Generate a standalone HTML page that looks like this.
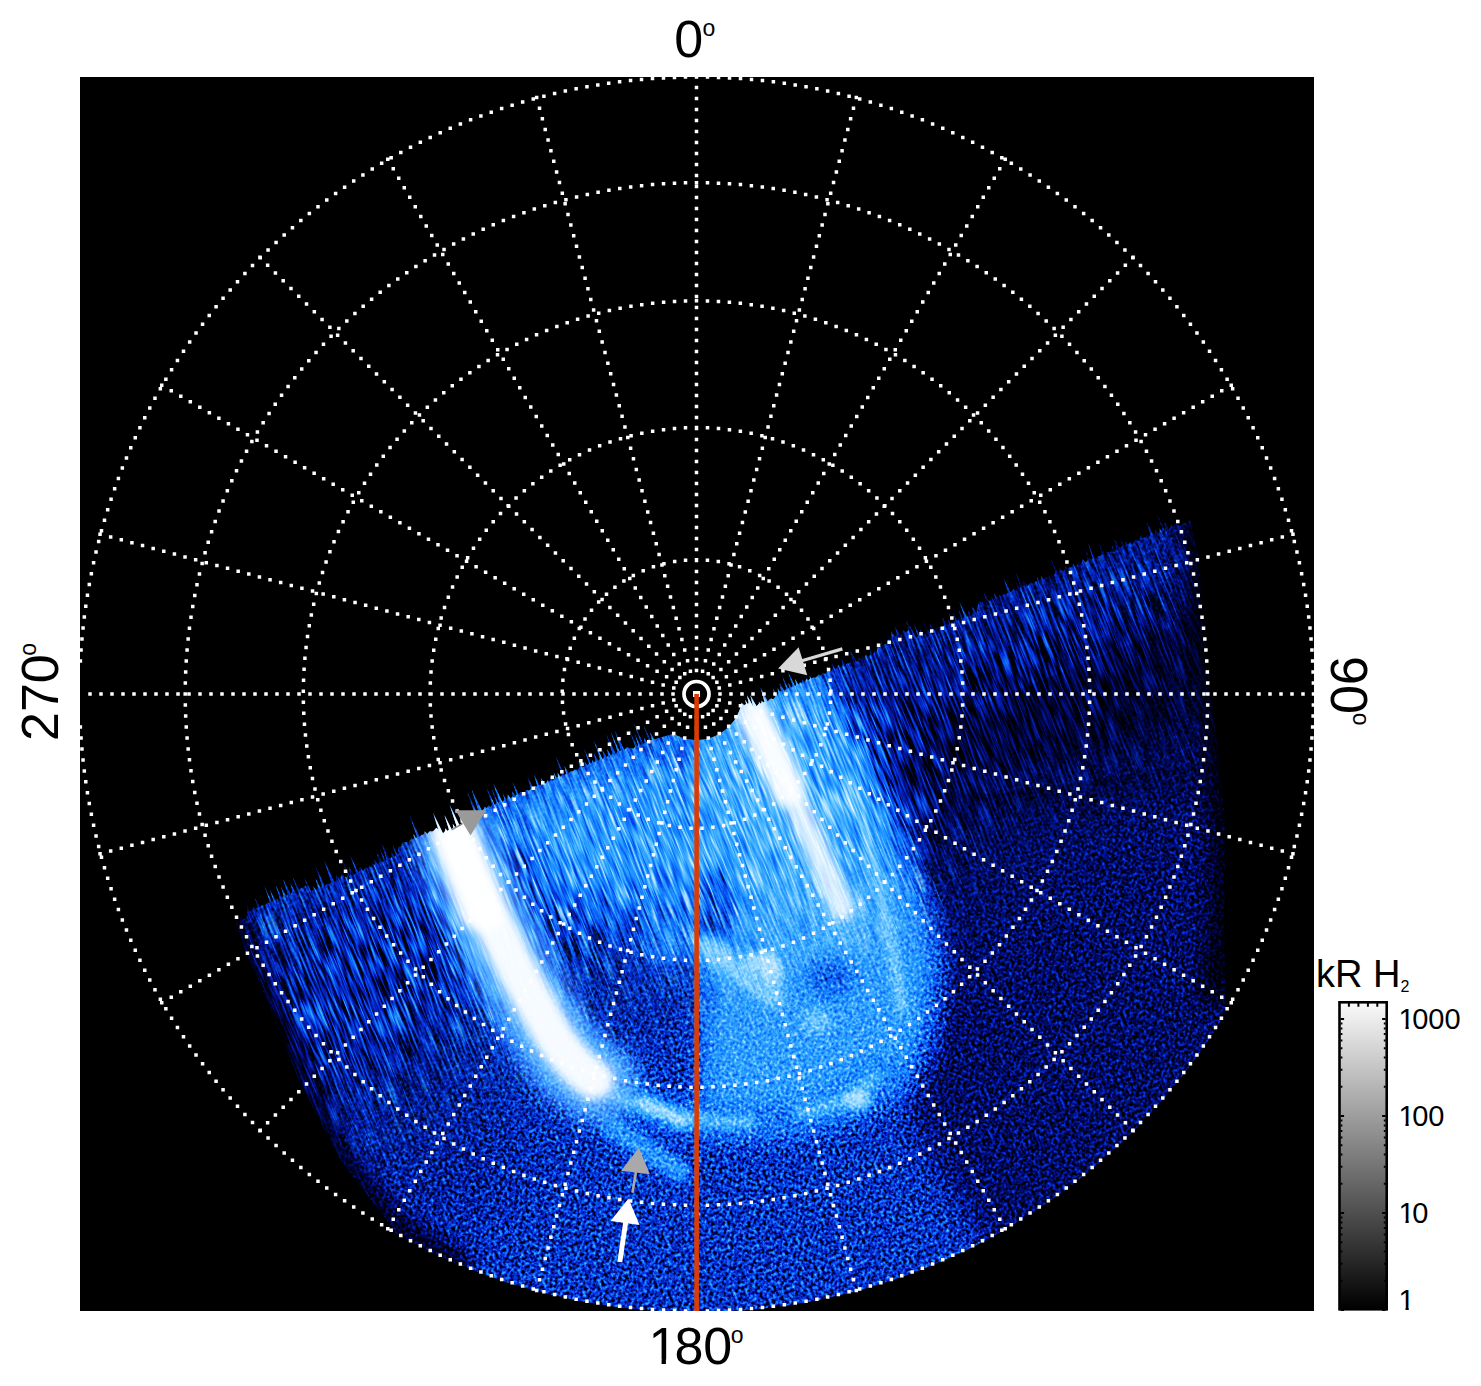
<!DOCTYPE html>
<html><head><meta charset="utf-8"><style>
html,body{margin:0;padding:0;background:#fff;width:1481px;height:1386px;overflow:hidden}
svg{display:block}
text{font-family:"Liberation Sans",sans-serif;fill:#000}
</style></head><body>
<svg width="1481" height="1386" viewBox="0 0 1481 1386">
<defs>
<clipPath id="sq"><rect x="80" y="77" width="1234" height="1234"/></clipPath>
</defs>
<rect x="80" y="77" width="1234" height="1234" fill="#000"/>
<g clip-path="url(#sq)">
<defs>
<filter id="b30" x="-50%" y="-50%" width="200%" height="200%"><feGaussianBlur stdDeviation="30"/></filter>
<filter id="b12" x="-50%" y="-50%" width="200%" height="200%"><feGaussianBlur stdDeviation="12"/></filter>
<filter id="b10" x="-50%" y="-50%" width="200%" height="200%"><feGaussianBlur stdDeviation="10"/></filter>
<filter id="b5" x="-50%" y="-50%" width="200%" height="200%"><feGaussianBlur stdDeviation="5"/></filter>
<filter id="b4" x="-50%" y="-50%" width="200%" height="200%"><feGaussianBlur stdDeviation="4"/></filter>
<filter id="b60" x="-50%" y="-50%" width="200%" height="200%"><feGaussianBlur stdDeviation="60"/></filter>
<filter id="cmI" x="-300" y="100" width="2000" height="1500" filterUnits="userSpaceOnUse" color-interpolation-filters="sRGB">
  <feTurbulence type="fractalNoise" baseFrequency="0.33" numOctaves="2" seed="9" result="t1"/>
  <feColorMatrix in="t1" type="matrix" values="1 0 0 0 0  1 0 0 0 0  1 0 0 0 0  0 0 0 0 1" result="ng"/>
  <feComponentTransfer in="SourceGraphic" result="amp">
    <feFuncR type="table" tableValues="0.15 0.45 0.7 0.8 0.75 0.6 0.45 0.35 0.25 0.15 0.1"/><feFuncG type="table" tableValues="0.15 0.45 0.7 0.8 0.75 0.6 0.45 0.35 0.25 0.15 0.1"/><feFuncB type="table" tableValues="0.15 0.45 0.7 0.8 0.75 0.6 0.45 0.35 0.25 0.15 0.1"/>
    <feFuncA type="linear" slope="0" intercept="1"/>
  </feComponentTransfer>
  <feComposite in="amp" in2="ng" operator="arithmetic" k1="2.0" k2="-1.0" k3="0" k4="0.5" result="pn"/>
  <feComposite in="SourceGraphic" in2="pn" operator="arithmetic" k1="0" k2="1" k3="1" k4="-0.5" result="mod"/>
  <feComponentTransfer in="mod">
    <feFuncR type="table" tableValues="0 0 0.01 0.02 0.04 0.07 0.14 0.3 0.55 0.8 1"/>
    <feFuncG type="table" tableValues="0 0.03 0.1 0.2 0.33 0.48 0.6 0.72 0.83 0.92 1"/>
    <feFuncB type="table" tableValues="0 0.35 0.65 0.85 0.95 1 1 1 1 1 1"/>
    <feFuncA type="linear" slope="0" intercept="1"/>
  </feComponentTransfer>
</filter><filter id="cmS" x="-300" y="100" width="2000" height="1500" filterUnits="userSpaceOnUse" color-interpolation-filters="sRGB">
  <feTurbulence type="fractalNoise" baseFrequency="0.45 0.03" numOctaves="2" seed="4" result="t1"/>
  <feColorMatrix in="t1" type="matrix" values="1 0 0 0 0  1 0 0 0 0  1 0 0 0 0  0 0 0 0 1" result="ng"/>
  <feComponentTransfer in="SourceGraphic" result="amp">
    <feFuncR type="table" tableValues="0.2 0.55 0.8 0.9 0.85 0.7 0.5 0.4 0.3 0.2 0.1"/><feFuncG type="table" tableValues="0.2 0.55 0.8 0.9 0.85 0.7 0.5 0.4 0.3 0.2 0.1"/><feFuncB type="table" tableValues="0.2 0.55 0.8 0.9 0.85 0.7 0.5 0.4 0.3 0.2 0.1"/>
    <feFuncA type="linear" slope="0" intercept="1"/>
  </feComponentTransfer>
  <feComposite in="amp" in2="ng" operator="arithmetic" k1="2.2" k2="-1.1" k3="0" k4="0.5" result="pn"/>
  <feComposite in="SourceGraphic" in2="pn" operator="arithmetic" k1="0" k2="1" k3="1" k4="-0.5" result="mod"/>
  <feComponentTransfer in="mod">
    <feFuncR type="table" tableValues="0 0 0.01 0.02 0.04 0.07 0.14 0.3 0.55 0.8 1"/>
    <feFuncG type="table" tableValues="0 0.03 0.1 0.2 0.33 0.48 0.6 0.72 0.83 0.92 1"/>
    <feFuncB type="table" tableValues="0 0.35 0.65 0.85 0.95 1 1 1 1 1 1"/>
    <feFuncA type="linear" slope="0" intercept="1"/>
  </feComponentTransfer>
</filter><clipPath id="dclip"><path d="M236.0 921.7 L237.0 920.6 L238.9 921.7 L240.8 920.0 L239.8 915.6 L242.4 920.0 L243.5 918.8 L244.6 918.7 L245.9 918.8 L247.5 911.7 L246.9 906.1 L250.7 911.7 L252.9 909.3 L253.5 907.3 L255.7 909.3 L257.6 907.3 L255.1 898.2 L259.9 907.3 L261.5 905.6 L263.1 905.4 L264.8 905.6 L267.0 903.2 L267.5 902.2 L268.7 903.2 L269.9 901.9 L264.4 886.0 L271.8 901.9 L273.0 900.5 L269.8 889.8 L275.3 900.5 L276.8 898.9 L277.5 898.6 L278.5 898.9 L279.5 897.7 L275.9 885.8 L281.9 897.7 L283.5 895.9 L281.0 886.6 L286.0 895.9 L287.6 894.2 L283.0 878.9 L290.6 894.2 L292.6 892.0 L290.2 882.9 L295.2 892.0 L296.9 890.1 L292.6 876.8 L299.0 890.1 L300.4 888.6 L301.3 887.8 L302.8 888.6 L304.4 886.8 L305.2 885.8 L306.9 886.8 L308.6 891.9 L304.2 877.6 L311.3 891.9 L313.1 890.0 L313.2 886.5 L316.1 890.0 L318.0 887.8 L315.5 878.6 L320.5 887.8 L322.1 886.0 L315.3 866.0 L324.6 886.0 L326.3 884.2 L327.7 884.0 L329.3 884.2 L331.2 882.1 L324.1 860.3 L334.5 882.1 L336.6 879.7 L336.1 874.9 L339.5 879.7 L341.5 875.2 L341.8 873.9 L343.2 875.2 L344.4 877.6 L345.0 876.7 L346.4 877.6 L347.7 876.1 L341.4 858.5 L349.4 876.1 L350.5 874.9 L348.8 866.5 L353.9 874.9 L356.1 872.5 L350.1 855.1 L358.2 872.5 L359.6 871.0 L359.5 866.7 L362.9 871.0 L365.2 868.5 L365.7 867.5 L367.0 868.5 L368.3 867.2 L368.7 865.1 L370.8 867.2 L372.5 865.4 L372.2 862.8 L374.0 865.4 L375.0 864.3 L374.5 859.8 L377.7 864.3 L379.5 862.3 L375.9 850.2 L382.1 862.3 L383.8 860.5 L379.8 848.7 L385.4 860.5 L386.5 859.3 L382.2 844.5 L389.8 859.3 L392.0 856.9 L391.2 852.0 L394.4 856.9 L395.9 855.2 L392.5 844.6 L397.6 855.2 L398.7 847.3 L399.3 846.1 L400.9 847.3 L402.3 843.3 L402.8 842.2 L404.1 843.3 L405.2 842.0 L406.8 842.0 L408.5 842.0 L410.8 839.6 L411.4 838.6 L412.8 839.6 L414.1 838.2 L413.3 833.8 L415.9 838.2 L417.1 836.9 L409.5 815.1 L419.6 836.9 L421.2 835.1 L421.9 834.7 L422.9 835.1 L424.1 833.9 L424.6 831.3 L427.3 833.9 L429.5 831.6 L431.2 831.5 L433.0 831.6 L435.3 829.0 L436.2 828.0 L437.9 829.0 L439.7 833.5 L432.8 812.2 L443.0 833.5 L445.2 831.1 L445.3 828.5 L447.5 831.1 L449.0 829.5 L444.4 814.9 L451.6 829.5 L453.4 827.6 L452.8 823.9 L455.3 827.6 L456.6 826.2 L449.6 804.7 L459.9 826.2 L462.1 823.8 L457.2 807.9 L465.2 823.8 L467.2 821.7 L465.2 814.0 L469.5 821.7 L471.0 814.0 L470.8 811.2 L473.0 814.0 L474.4 812.6 L467.3 792.1 L476.8 812.6 L478.4 810.8 L471.5 789.3 L481.9 810.8 L484.3 808.3 L484.5 806.4 L486.3 808.3 L487.6 806.9 L488.3 805.2 L490.4 806.9 L492.3 804.9 L486.8 788.3 L494.8 804.9 L496.4 803.1 L491.1 787.7 L498.1 803.1 L499.2 801.9 L493.2 783.0 L502.4 801.9 L504.5 799.7 L502.7 792.9 L506.3 799.7 L507.6 798.4 L507.7 794.6 L510.8 798.4 L512.9 796.1 L512.0 791.1 L515.2 796.1 L516.8 794.4 L512.4 781.3 L518.7 794.4 L519.9 793.1 L521.2 792.0 L523.3 793.1 L525.6 790.7 L526.8 789.7 L528.8 790.7 L531.0 788.4 L527.5 777.1 L533.2 788.4 L534.7 786.8 L535.1 785.9 L536.2 786.8 L537.2 785.7 L534.1 774.7 L539.8 785.7 L541.6 783.9 L540.9 778.1 L544.9 783.9 L547.1 781.5 L547.4 779.7 L549.2 781.5 L550.5 780.1 L551.0 777.8 L553.2 780.1 L555.1 778.1 L553.7 772.6 L556.8 778.1 L558.0 776.9 L557.6 772.7 L560.5 776.9 L562.1 775.1 L555.7 756.4 L564.5 775.1 L566.1 773.4 L564.5 766.1 L568.7 773.4 L570.5 771.6 L571.7 771.5 L572.9 771.6 L574.5 769.8 L576.1 769.8 L577.7 769.8 L579.8 767.6 L578.6 760.9 L582.8 767.6 L584.8 765.5 L584.6 761.8 L587.4 765.5 L589.1 763.6 L584.0 748.7 L590.9 763.6 L592.0 762.4 L592.1 760.0 L594.1 762.4 L595.5 760.9 L593.8 753.5 L598.2 760.9 L600.0 759.1 L593.5 740.0 L602.4 759.1 L604.0 757.3 L602.3 749.9 L606.6 757.3 L608.3 755.5 L607.1 749.3 L610.9 755.5 L612.7 753.7 L606.1 733.7 L615.6 753.7 L617.6 751.6 L610.6 731.6 L619.7 751.6 L621.0 750.1 L614.6 730.1 L624.3 750.1 L626.5 747.8 L627.4 747.1 L628.9 747.8 L630.5 748.7 L631.8 748.3 L633.4 748.7 L635.3 746.6 L628.8 728.1 L637.2 746.6 L638.4 745.3 L634.7 734.0 L640.2 745.3 L641.4 744.1 L633.9 723.2 L643.3 744.1 L644.7 742.7 L643.9 737.7 L647.2 742.7 L648.9 740.9 L643.2 724.5 L650.7 740.9 L651.9 739.6 L650.0 732.0 L654.1 739.6 L673.4 733.7 L673.4 733.8 L675.8 735.1 L678.4 736.3 L681.1 737.3 L683.8 738.2 L686.5 738.9 L689.3 739.4 L692.1 739.8 L694.9 740.0 L697.8 740.0 L700.6 739.8 L703.4 739.5 L706.2 739.0 L708.9 738.3 L711.6 737.4 L714.3 736.4 L716.9 735.3 L719.4 733.9 L721.8 732.4 L724.1 730.8 L726.3 729.0 L728.4 727.1 L730.4 725.1 L732.2 723.0 L734.0 720.7 L735.5 718.4 L736.9 715.9 L738.2 713.4 L739.3 710.8 L740.3 708.1 L741.1 705.4 L741.1 705.3 L741.5 702.8 L744.1 705.3 L746.1 703.9 L745.1 699.6 L747.6 703.9 L748.7 702.8 L746.9 695.3 L751.2 702.8 L753.0 706.2 L750.3 695.3 L756.5 706.2 L758.9 703.7 L758.9 701.8 L760.4 703.7 L761.5 702.6 L761.6 700.7 L763.3 702.6 L764.4 701.4 L760.5 687.6 L767.7 701.4 L769.8 699.2 L771.2 698.4 L773.2 699.2 L775.5 696.8 L772.7 687.7 L777.2 696.8 L778.3 692.0 L777.5 688.0 L780.0 692.0 L781.1 690.9 L779.6 683.2 L784.3 690.9 L786.4 688.7 L782.2 676.2 L788.0 688.7 L789.1 687.5 L788.4 683.0 L791.3 687.5 L792.8 686.0 L788.1 671.9 L794.9 686.0 L796.3 684.6 L794.9 678.8 L798.3 684.6 L799.6 683.2 L800.0 682.3 L801.2 683.2 L802.3 682.1 L802.3 679.6 L804.4 682.1 L805.8 680.6 L806.2 678.4 L808.4 680.6 L810.1 678.8 L809.7 675.9 L811.6 678.8 L812.7 677.8 L814.2 677.8 L815.7 677.8 L817.7 675.7 L818.5 674.6 L820.2 675.7 L821.9 674.0 L823.3 673.5 L825.1 674.0 L827.2 671.7 L826.8 666.5 L830.5 671.7 L832.7 669.5 L832.0 664.1 L835.6 669.5 L837.6 667.5 L838.0 664.6 L840.8 667.5 L843.0 665.2 L841.0 657.5 L845.3 665.2 L846.9 663.6 L847.7 663.4 L848.7 663.6 L849.9 663.0 L850.1 661.2 L851.7 663.0 L852.9 661.7 L849.7 649.6 L856.3 661.7 L858.5 659.4 L858.6 657.3 L860.5 659.4 L861.8 658.1 L860.9 653.4 L863.7 658.1 L864.9 656.8 L865.9 654.9 L868.4 656.8 L870.7 654.4 L869.3 648.3 L872.8 654.4 L874.1 653.0 L874.2 650.5 L876.3 653.0 L877.8 647.1 L877.2 642.3 L880.4 647.1 L882.1 645.4 L880.7 640.0 L883.6 645.4 L884.6 644.3 L885.7 644.0 L887.0 644.3 L888.5 638.4 L888.6 636.0 L890.5 638.4 L891.8 637.1 L891.0 631.3 L894.9 637.1 L897.0 635.0 L894.8 625.6 L900.3 635.0 L902.5 632.7 L903.2 630.0 L906.1 632.7 L908.5 630.2 L906.1 620.7 L911.3 630.2 L913.2 638.0 L909.3 624.7 L916.1 638.0 L917.9 636.1 L914.2 624.6 L919.7 636.1 L920.9 634.9 L920.4 629.5 L924.2 634.9 L926.3 632.6 L922.9 620.8 L929.1 632.6 L930.9 630.8 L928.9 622.1 L933.8 630.8 L935.8 628.8 L936.7 628.7 L937.6 628.8 L938.8 627.5 L940.2 627.1 L942.0 627.5 L944.2 625.3 L942.5 617.7 L947.0 625.3 L948.9 623.4 L947.6 618.3 L950.4 623.4 L951.4 622.4 L948.6 612.3 L954.0 622.4 L955.7 620.6 L953.2 612.4 L957.3 620.6 L958.4 619.5 L958.5 617.7 L960.1 619.5 L961.2 618.4 L958.2 608.7 L963.1 618.4 L964.4 617.1 L959.4 601.7 L966.9 617.1 L968.6 615.3 L968.1 610.4 L971.5 615.3 L973.5 613.3 L971.9 605.9 L976.4 613.3 L978.3 603.1 L979.1 601.4 L981.3 603.1 L983.4 601.1 L981.5 594.6 L984.9 601.1 L985.9 601.5 L984.0 593.0 L988.8 601.5 L990.8 599.5 L991.2 597.3 L993.4 599.5 L995.1 597.7 L994.1 593.0 L996.9 597.7 L998.0 596.5 L999.3 595.3 L1001.6 596.5 L1004.0 594.1 L1005.2 594.1 L1006.4 594.1 L1008.1 592.4 L1003.2 577.3 L1010.5 592.4 L1012.1 590.8 L1013.4 589.5 L1015.6 590.8 L1018.0 588.4 L1016.1 581.7 L1019.8 588.4 L1020.9 587.2 L1015.9 572.4 L1022.7 587.2 L1023.9 586.0 L1023.4 580.6 L1027.3 586.0 L1029.5 583.7 L1030.6 582.2 L1032.9 583.7 L1035.2 581.4 L1035.9 581.4 L1036.7 581.4 L1037.7 580.4 L1036.9 575.9 L1039.8 580.4 L1041.2 579.0 L1041.1 576.1 L1043.4 579.0 L1044.8 577.5 L1046.4 577.5 L1047.9 577.5 L1050.0 575.4 L1051.5 574.9 L1053.4 575.4 L1055.7 573.1 L1051.3 559.6 L1057.8 573.1 L1059.2 571.7 L1059.6 568.1 L1062.8 571.7 L1065.2 569.3 L1065.2 566.1 L1067.6 569.3 L1069.2 567.6 L1070.0 567.5 L1070.9 567.6 L1072.1 566.5 L1072.9 564.3 L1075.5 566.5 L1077.8 564.2 L1078.4 562.2 L1080.4 564.2 L1082.1 562.4 L1082.6 559.1 L1085.6 562.4 L1088.0 560.1 L1084.8 548.6 L1090.8 560.1 L1092.7 558.2 L1088.2 543.7 L1095.3 558.2 L1097.1 556.4 L1098.6 556.2 L1100.1 556.4 L1102.2 554.3 L1099.5 544.2 L1105.0 554.3 L1106.9 552.4 L1108.6 552.3 L1110.4 552.4 L1112.7 550.1 L1111.8 545.3 L1114.9 550.1 L1116.4 548.6 L1114.2 538.8 L1119.9 548.6 L1122.3 546.2 L1120.1 538.1 L1124.4 546.2 L1125.8 544.8 L1125.3 541.2 L1127.7 544.8 L1128.9 543.6 L1130.1 542.3 L1132.3 543.6 L1134.6 541.3 L1135.7 539.9 L1138.0 541.3 L1140.3 539.0 L1139.4 534.6 L1142.1 539.0 L1143.3 537.8 L1144.2 537.5 L1145.5 537.8 L1147.0 536.3 L1147.3 534.7 L1149.0 536.3 L1150.4 535.0 L1146.6 521.8 L1153.4 535.0 L1155.5 532.9 L1155.2 529.0 L1158.1 532.9 L1159.8 531.2 L1159.5 528.3 L1161.5 531.2 L1162.5 530.1 L1157.3 514.9 L1164.3 530.1 L1165.5 528.9 L1164.1 521.3 L1168.8 528.9 L1171.0 526.7 L1171.2 524.7 L1173.0 526.7 L1174.4 525.3 L1174.3 521.0 L1177.9 525.3 L1180.0 525.9 L1190.0 520.0 L1199.0 560.0 L1203.0 625.0 L1217.0 742.0 L1226.0 828.0 L1224.0 929.0 L1225.9 1012.8 L1221.8 1019.5 L1217.6 1026.2 L1213.3 1032.9 L1208.9 1039.4 L1204.5 1046.0 L1199.9 1052.4 L1195.3 1058.8 L1190.6 1065.2 L1185.8 1071.5 L1181.0 1077.7 L1176.0 1083.8 L1171.0 1089.9 L1165.9 1096.0 L1160.7 1101.9 L1155.5 1107.8 L1150.1 1113.7 L1144.7 1119.4 L1139.3 1125.1 L1133.7 1130.8 L1128.1 1136.3 L1122.4 1141.8 L1116.6 1147.2 L1110.8 1152.5 L1104.9 1157.8 L1099.0 1163.0 L1092.9 1168.1 L1086.8 1173.1 L1080.7 1178.1 L1074.5 1182.9 L1068.2 1187.7 L1061.8 1192.4 L1055.4 1197.1 L1049.0 1201.6 L1042.5 1206.1 L1035.9 1210.5 L1029.3 1214.8 L1022.6 1219.0 L1015.8 1223.1 L1009.0 1227.1 L1002.2 1231.1 L995.3 1235.0 L988.4 1238.7 L981.4 1242.4 L974.4 1246.0 L967.3 1249.5 L960.1 1252.9 L953.0 1256.3 L945.8 1259.5 L938.5 1262.6 L931.2 1265.7 L923.9 1268.6 L916.5 1271.5 L909.1 1274.3 L901.7 1276.9 L894.2 1279.5 L886.7 1282.0 L879.2 1284.4 L871.6 1286.7 L864.0 1288.9 L856.4 1290.9 L848.8 1292.9 L841.1 1294.8 L833.4 1296.6 L825.7 1298.3 L818.0 1299.9 L810.2 1301.4 L802.4 1302.9 L794.7 1304.2 L786.8 1305.4 L779.0 1306.5 L771.2 1307.5 L763.3 1308.4 L755.5 1309.2 L747.6 1309.9 L739.7 1310.5 L731.8 1311.0 L724.0 1311.4 L716.1 1311.7 L708.2 1311.9 L700.3 1312.0 L692.4 1312.0 L684.5 1311.9 L676.6 1311.7 L668.7 1311.4 L660.8 1311.0 L652.9 1310.5 L645.0 1309.9 L637.1 1309.1 L629.3 1308.3 L621.4 1307.4 L613.6 1306.4 L605.8 1305.3 L598.0 1304.1 L590.2 1302.8 L582.4 1301.4 L574.7 1299.9 L566.9 1298.3 L559.2 1296.6 L551.5 1294.8 L543.8 1292.8 L536.2 1290.8 L528.6 1288.8 L521.0 1286.6 L513.4 1284.3 L505.9 1281.9 L498.4 1279.4 L490.9 1276.8 L483.5 1274.1 L476.1 1271.4 L468.7 1268.5 L461.4 1265.5 L454.1 1262.5 L446.9 1259.3 L439.7 1256.1 L432.5 1252.8 L425.4 1249.4 L418.3 1245.8 L411.3 1242.2 L404.3 1238.6 L397.4 1234.8 L342.0 1162.0 L302.0 1087.0 L268.0 1002.0 L247.0 955.0 L236.0 925.0Z"/></clipPath>
<mask id="mS" maskUnits="userSpaceOnUse" x="0" y="0" width="1481" height="1386"><path d="M200 940 L236 921 L260 881.138 L300 863.662 L340 846.252 L380 828.908 L420 811.63 L460 794.418 L500 777.271 L540 760.191 L580 743.176 L620 726.228 L660 709.345 L700 692.528 L740 675.778 L780 659.093 L820 642.474 L860 625.921 L900 609.434 L940 593.013 L980 576.658 L1020 560.369 L1060 544.145 L1100 527.988 L1140 511.897 L1180 495.871 L1230 720 L1000 810 L930 900 L760 960 L560 980 L420 1100 L250 1180Z" fill="#fff" filter="url(#b60)"/></mask>
<g id="field">
<rect x="60" y="380" width="1280" height="960" fill="#474747"/>
<g filter="url(#b12)">
<path d="M815 676 L1250 470 L1260 1050 L1080 1250 L990 1250 L930 1160 L905 1100 L925 1040 L935 960 L922 900 L890 820 L850 740Z" fill="#1a1a1a"/>
<path d="M700 725 L815 676 L850 740 L890 820 L922 900 L935 960 L925 1040 L900 1090 L850 1115 L760 1122 L700 1120Z" fill="#9e9e9e"/>
</g>
<g filter="url(#b30)">
<path d="M900 710 L1220 585 L1225 760 L960 800Z" fill="#080808"/>
<path d="M870 650 L1195 515 L1200 570 L880 700Z" fill="#383838"/>
<path d="M480 790 L690 730 L700 910 L580 910 L500 860Z" fill="#9e9e9e"/>
<path d="M697 735 L815 676 L860 760 L855 950 L697 950Z" fill="#adadad"/>
<path d="M236 921 L440 840 L470 960 L260 1000Z" fill="#383838"/>
<ellipse cx="615" cy="990" rx="55" ry="80" fill="#3d3d3d"/>
<path d="M250 1010 L440 1000 L540 1180 L430 1250 L320 1150Z" fill="#333333"/>
</g>
<path d="M225 900 L236 925 L247 955 L268 1002 L302 1087 L342 1162 L400 1230 L470 1270" stroke="#000" stroke-width="26" fill="none" filter="url(#b10)"/>
<path d="M1190 520 L1199 560 L1203 625 L1217 742 L1226 828 L1224 929 L1213 1005" stroke="#000" stroke-width="30" fill="none" filter="url(#b10)"/>
<g filter="url(#b10)" fill="none" stroke-linecap="round">
<path d="M456 846 C482 918 515 980 554 1040 C568 1062 584 1075 602 1085" stroke="#a6a6a6" stroke-width="76"/>
<path d="M600 1085 C640 1110 700 1130 770 1125 C820 1120 850 1105 880 1075" stroke="#808080" stroke-width="34"/>
<path d="M742 712 C780 790 815 855 848 920" stroke="#b2b2b2" stroke-width="70"/>
<path d="M848 778 C870 840 890 930 902 1010" stroke="#999999" stroke-width="26"/>
<ellipse cx="718" cy="905" rx="22" ry="40" fill="#6b6b6b" stroke="none"/>
<ellipse cx="830" cy="975" rx="25" ry="22" fill="#737373" stroke="none"/>
<ellipse cx="668" cy="937" rx="22" ry="28" fill="#8c8c8c" stroke="none"/>
</g>
<g filter="url(#b4)" fill="none" stroke-linecap="round">
<path d="M610 1092 C650 1114 700 1124 750 1122" stroke="#b8b8b8" stroke-width="14"/>
<path d="M800 1112 C835 1108 860 1095 875 1075" stroke="#b8b8b8" stroke-width="14"/>
<path d="M612 1128 L680 1172" stroke="#999999" stroke-width="22"/>
<path d="M645 1102 L682 1122" stroke="#d9d9d9" stroke-width="14"/>
<ellipse cx="857" cy="1100" rx="14" ry="10" fill="#d9d9d9" stroke="none"/>
<ellipse cx="817" cy="1021" rx="16" ry="12" fill="#bfbfbf" stroke="none"/>
<path d="M848 778 C870 840 890 930 902 1010" stroke="#cccccc" stroke-width="10"/>
<ellipse cx="763" cy="972" rx="20" ry="22" fill="#d9d9d9" stroke="none"/>
<path d="M705 945 L772 995" stroke="#c7c7c7" stroke-width="24"/>
</g>
</g></defs>
<g clip-path="url(#dclip)">
<g transform="rotate(-22 696.5 694.0)"><g filter="url(#cmI)"><use href="#field" transform="rotate(22 696.5 694.0)"/></g></g>
<g mask="url(#mS)"><g transform="rotate(-22 696.5 694.0)"><g filter="url(#cmS)"><use href="#field" transform="rotate(22 696.5 694.0)"/></g></g></g>
<g filter="url(#b10)" fill="none" stroke-linecap="round">
<path d="M456 846 C482 905 508 962 554 1040 C568 1062 580 1074 597 1082" stroke="#8cc8ff" stroke-width="76" stroke-opacity="0.45"/>
</g>
<g filter="url(#b5)" fill="none" stroke-linecap="round">
<path d="M458 838 C484 905 510 962 556 1040 C570 1060 582 1072 594 1080" stroke="#fff" stroke-width="40" stroke-opacity="0.95"/>
<path d="M452 830 C462 860 472 885 482 910" stroke="#fff" stroke-width="46" stroke-opacity="0.9"/>
<path d="M760 718 C780 765 805 825 842 908" stroke="#fff" stroke-width="24" stroke-opacity="0.8"/>
<path d="M752 712 C762 735 775 760 788 790" stroke="#fff" stroke-width="34" stroke-opacity="0.85"/>
</g>
</g>
<path d="M694.75 668.75h3.5v3.5h-3.5zM700.83 669.55h3.5v3.5h-3.5zM706.50 671.90h3.5v3.5h-3.5zM711.37 675.63h3.5v3.5h-3.5zM715.10 680.50h3.5v3.5h-3.5zM717.45 686.17h3.5v3.5h-3.5zM718.25 692.25h3.5v3.5h-3.5zM717.45 698.33h3.5v3.5h-3.5zM715.10 704.00h3.5v3.5h-3.5zM711.37 708.87h3.5v3.5h-3.5zM706.50 712.60h3.5v3.5h-3.5zM700.83 714.95h3.5v3.5h-3.5zM694.75 715.75h3.5v3.5h-3.5zM688.67 714.95h3.5v3.5h-3.5zM683.00 712.60h3.5v3.5h-3.5zM678.13 708.87h3.5v3.5h-3.5zM674.40 704.00h3.5v3.5h-3.5zM672.05 698.33h3.5v3.5h-3.5zM671.25 692.25h3.5v3.5h-3.5zM672.05 686.17h3.5v3.5h-3.5zM674.40 680.50h3.5v3.5h-3.5zM678.13 675.63h3.5v3.5h-3.5zM683.00 671.90h3.5v3.5h-3.5zM688.67 669.55h3.5v3.5h-3.5zM694.75 557.95h3.5v3.5h-3.5zM705.70 558.40h3.5v3.5h-3.5zM716.57 559.73h3.5v3.5h-3.5zM727.30 561.95h3.5v3.5h-3.5zM737.81 565.04h3.5v3.5h-3.5zM748.04 568.97h3.5v3.5h-3.5zM757.91 573.73h3.5v3.5h-3.5zM767.36 579.27h3.5v3.5h-3.5zM776.33 585.56h3.5v3.5h-3.5zM784.75 592.57h3.5v3.5h-3.5zM792.58 600.24h3.5v3.5h-3.5zM799.75 608.52h3.5v3.5h-3.5zM806.23 617.35h3.5v3.5h-3.5zM811.96 626.69h3.5v3.5h-3.5zM816.91 636.46h3.5v3.5h-3.5zM821.05 646.60h3.5v3.5h-3.5zM824.35 657.05h3.5v3.5h-3.5zM826.79 667.73h3.5v3.5h-3.5zM828.35 678.58h3.5v3.5h-3.5zM829.02 689.51h3.5v3.5h-3.5zM828.80 700.46h3.5v3.5h-3.5zM827.68 711.36h3.5v3.5h-3.5zM825.68 722.13h3.5v3.5h-3.5zM822.81 732.71h3.5v3.5h-3.5zM819.09 743.01h3.5v3.5h-3.5zM814.54 752.98h3.5v3.5h-3.5zM809.19 762.54h3.5v3.5h-3.5zM803.08 771.63h3.5v3.5h-3.5zM796.25 780.20h3.5v3.5h-3.5zM788.74 788.18h3.5v3.5h-3.5zM780.61 795.52h3.5v3.5h-3.5zM771.91 802.17h3.5v3.5h-3.5zM762.69 808.10h3.5v3.5h-3.5zM753.02 813.25h3.5v3.5h-3.5zM742.96 817.60h3.5v3.5h-3.5zM732.59 821.11h3.5v3.5h-3.5zM721.96 823.77h3.5v3.5h-3.5zM711.15 825.55h3.5v3.5h-3.5zM700.23 826.44h3.5v3.5h-3.5zM689.27 826.44h3.5v3.5h-3.5zM678.35 825.55h3.5v3.5h-3.5zM667.54 823.77h3.5v3.5h-3.5zM656.91 821.11h3.5v3.5h-3.5zM646.54 817.60h3.5v3.5h-3.5zM636.48 813.25h3.5v3.5h-3.5zM626.81 808.10h3.5v3.5h-3.5zM617.59 802.17h3.5v3.5h-3.5zM608.89 795.52h3.5v3.5h-3.5zM600.76 788.18h3.5v3.5h-3.5zM593.25 780.20h3.5v3.5h-3.5zM586.42 771.63h3.5v3.5h-3.5zM580.31 762.54h3.5v3.5h-3.5zM574.96 752.98h3.5v3.5h-3.5zM570.41 743.01h3.5v3.5h-3.5zM566.69 732.71h3.5v3.5h-3.5zM563.82 722.13h3.5v3.5h-3.5zM561.82 711.36h3.5v3.5h-3.5zM560.70 700.46h3.5v3.5h-3.5zM560.48 689.51h3.5v3.5h-3.5zM561.15 678.58h3.5v3.5h-3.5zM562.71 667.73h3.5v3.5h-3.5zM565.15 657.05h3.5v3.5h-3.5zM568.45 646.60h3.5v3.5h-3.5zM572.59 636.46h3.5v3.5h-3.5zM577.54 626.69h3.5v3.5h-3.5zM583.27 617.35h3.5v3.5h-3.5zM589.75 608.52h3.5v3.5h-3.5zM596.92 600.24h3.5v3.5h-3.5zM604.75 592.57h3.5v3.5h-3.5zM613.17 585.56h3.5v3.5h-3.5zM622.14 579.27h3.5v3.5h-3.5zM631.59 573.73h3.5v3.5h-3.5zM641.46 568.97h3.5v3.5h-3.5zM651.69 565.04h3.5v3.5h-3.5zM662.20 561.95h3.5v3.5h-3.5zM672.93 559.73h3.5v3.5h-3.5zM683.80 558.40h3.5v3.5h-3.5zM694.75 425.85h3.5v3.5h-3.5zM705.76 426.08h3.5v3.5h-3.5zM716.75 426.76h3.5v3.5h-3.5zM727.70 427.90h3.5v3.5h-3.5zM738.60 429.48h3.5v3.5h-3.5zM749.42 431.52h3.5v3.5h-3.5zM760.15 434.00h3.5v3.5h-3.5zM770.76 436.92h3.5v3.5h-3.5zM781.25 440.28h3.5v3.5h-3.5zM791.59 444.07h3.5v3.5h-3.5zM801.76 448.29h3.5v3.5h-3.5zM811.75 452.92h3.5v3.5h-3.5zM821.54 457.96h3.5v3.5h-3.5zM831.12 463.40h3.5v3.5h-3.5zM840.46 469.23h3.5v3.5h-3.5zM849.55 475.44h3.5v3.5h-3.5zM858.38 482.02h3.5v3.5h-3.5zM866.92 488.96h3.5v3.5h-3.5zM875.18 496.25h3.5v3.5h-3.5zM883.12 503.88h3.5v3.5h-3.5zM890.75 511.82h3.5v3.5h-3.5zM898.04 520.08h3.5v3.5h-3.5zM904.98 528.62h3.5v3.5h-3.5zM911.56 537.45h3.5v3.5h-3.5zM917.77 546.54h3.5v3.5h-3.5zM923.60 555.88h3.5v3.5h-3.5zM929.04 565.46h3.5v3.5h-3.5zM934.08 575.25h3.5v3.5h-3.5zM938.71 585.24h3.5v3.5h-3.5zM942.93 595.41h3.5v3.5h-3.5zM946.72 605.75h3.5v3.5h-3.5zM950.08 616.24h3.5v3.5h-3.5zM953.00 626.85h3.5v3.5h-3.5zM955.48 637.58h3.5v3.5h-3.5zM957.52 648.40h3.5v3.5h-3.5zM959.10 659.30h3.5v3.5h-3.5zM960.24 670.25h3.5v3.5h-3.5zM960.92 681.24h3.5v3.5h-3.5zM961.15 692.25h3.5v3.5h-3.5zM960.92 703.26h3.5v3.5h-3.5zM960.24 714.25h3.5v3.5h-3.5zM959.10 725.20h3.5v3.5h-3.5zM957.52 736.10h3.5v3.5h-3.5zM955.48 746.92h3.5v3.5h-3.5zM953.00 757.65h3.5v3.5h-3.5zM950.08 768.26h3.5v3.5h-3.5zM946.72 778.75h3.5v3.5h-3.5zM942.93 789.09h3.5v3.5h-3.5zM938.71 799.26h3.5v3.5h-3.5zM934.08 809.25h3.5v3.5h-3.5zM929.04 819.04h3.5v3.5h-3.5zM923.60 828.62h3.5v3.5h-3.5zM917.77 837.96h3.5v3.5h-3.5zM911.56 847.05h3.5v3.5h-3.5zM904.98 855.88h3.5v3.5h-3.5zM898.04 864.42h3.5v3.5h-3.5zM890.75 872.68h3.5v3.5h-3.5zM883.12 880.62h3.5v3.5h-3.5zM875.18 888.25h3.5v3.5h-3.5zM866.92 895.54h3.5v3.5h-3.5zM858.38 902.48h3.5v3.5h-3.5zM849.55 909.06h3.5v3.5h-3.5zM840.46 915.27h3.5v3.5h-3.5zM831.12 921.10h3.5v3.5h-3.5zM821.54 926.54h3.5v3.5h-3.5zM811.75 931.58h3.5v3.5h-3.5zM801.76 936.21h3.5v3.5h-3.5zM791.59 940.43h3.5v3.5h-3.5zM781.25 944.22h3.5v3.5h-3.5zM770.76 947.58h3.5v3.5h-3.5zM760.15 950.50h3.5v3.5h-3.5zM749.42 952.98h3.5v3.5h-3.5zM738.60 955.02h3.5v3.5h-3.5zM727.70 956.60h3.5v3.5h-3.5zM716.75 957.74h3.5v3.5h-3.5zM705.76 958.42h3.5v3.5h-3.5zM694.75 958.65h3.5v3.5h-3.5zM683.74 958.42h3.5v3.5h-3.5zM672.75 957.74h3.5v3.5h-3.5zM661.80 956.60h3.5v3.5h-3.5zM650.90 955.02h3.5v3.5h-3.5zM640.08 952.98h3.5v3.5h-3.5zM629.35 950.50h3.5v3.5h-3.5zM618.74 947.58h3.5v3.5h-3.5zM608.25 944.22h3.5v3.5h-3.5zM597.91 940.43h3.5v3.5h-3.5zM587.74 936.21h3.5v3.5h-3.5zM577.75 931.58h3.5v3.5h-3.5zM567.96 926.54h3.5v3.5h-3.5zM558.38 921.10h3.5v3.5h-3.5zM549.04 915.27h3.5v3.5h-3.5zM539.95 909.06h3.5v3.5h-3.5zM531.12 902.48h3.5v3.5h-3.5zM522.58 895.54h3.5v3.5h-3.5zM514.32 888.25h3.5v3.5h-3.5zM506.38 880.62h3.5v3.5h-3.5zM498.75 872.68h3.5v3.5h-3.5zM491.46 864.42h3.5v3.5h-3.5zM484.52 855.88h3.5v3.5h-3.5zM477.94 847.05h3.5v3.5h-3.5zM471.73 837.96h3.5v3.5h-3.5zM465.90 828.62h3.5v3.5h-3.5zM460.46 819.04h3.5v3.5h-3.5zM455.42 809.25h3.5v3.5h-3.5zM450.79 799.26h3.5v3.5h-3.5zM446.57 789.09h3.5v3.5h-3.5zM442.78 778.75h3.5v3.5h-3.5zM439.42 768.26h3.5v3.5h-3.5zM436.50 757.65h3.5v3.5h-3.5zM434.02 746.92h3.5v3.5h-3.5zM431.98 736.10h3.5v3.5h-3.5zM430.40 725.20h3.5v3.5h-3.5zM429.26 714.25h3.5v3.5h-3.5zM428.58 703.26h3.5v3.5h-3.5zM428.35 692.25h3.5v3.5h-3.5zM428.58 681.24h3.5v3.5h-3.5zM429.26 670.25h3.5v3.5h-3.5zM430.40 659.30h3.5v3.5h-3.5zM431.98 648.40h3.5v3.5h-3.5zM434.02 637.58h3.5v3.5h-3.5zM436.50 626.85h3.5v3.5h-3.5zM439.42 616.24h3.5v3.5h-3.5zM442.78 605.75h3.5v3.5h-3.5zM446.57 595.41h3.5v3.5h-3.5zM450.79 585.24h3.5v3.5h-3.5zM455.42 575.25h3.5v3.5h-3.5zM460.46 565.46h3.5v3.5h-3.5zM465.90 555.88h3.5v3.5h-3.5zM471.73 546.54h3.5v3.5h-3.5zM477.94 537.45h3.5v3.5h-3.5zM484.52 528.62h3.5v3.5h-3.5zM491.46 520.08h3.5v3.5h-3.5zM498.75 511.82h3.5v3.5h-3.5zM506.38 503.88h3.5v3.5h-3.5zM514.32 496.25h3.5v3.5h-3.5zM522.58 488.96h3.5v3.5h-3.5zM531.12 482.02h3.5v3.5h-3.5zM539.95 475.44h3.5v3.5h-3.5zM549.04 469.23h3.5v3.5h-3.5zM558.38 463.40h3.5v3.5h-3.5zM567.96 457.96h3.5v3.5h-3.5zM577.75 452.92h3.5v3.5h-3.5zM587.74 448.29h3.5v3.5h-3.5zM597.91 444.07h3.5v3.5h-3.5zM608.25 440.28h3.5v3.5h-3.5zM618.74 436.92h3.5v3.5h-3.5zM629.35 434.00h3.5v3.5h-3.5zM640.08 431.52h3.5v3.5h-3.5zM650.90 429.48h3.5v3.5h-3.5zM661.80 427.90h3.5v3.5h-3.5zM672.75 426.76h3.5v3.5h-3.5zM683.74 426.08h3.5v3.5h-3.5zM694.75 299.05h3.5v3.5h-3.5zM705.73 299.20h3.5v3.5h-3.5zM716.70 299.66h3.5v3.5h-3.5zM727.65 300.43h3.5v3.5h-3.5zM738.58 301.50h3.5v3.5h-3.5zM749.47 302.88h3.5v3.5h-3.5zM760.32 304.56h3.5v3.5h-3.5zM771.12 306.54h3.5v3.5h-3.5zM781.86 308.82h3.5v3.5h-3.5zM792.53 311.40h3.5v3.5h-3.5zM803.13 314.28h3.5v3.5h-3.5zM813.64 317.46h3.5v3.5h-3.5zM824.06 320.92h3.5v3.5h-3.5zM834.38 324.68h3.5v3.5h-3.5zM844.59 328.72h3.5v3.5h-3.5zM854.68 333.04h3.5v3.5h-3.5zM864.65 337.65h3.5v3.5h-3.5zM874.48 342.53h3.5v3.5h-3.5zM884.18 347.69h3.5v3.5h-3.5zM893.72 353.11h3.5v3.5h-3.5zM903.11 358.80h3.5v3.5h-3.5zM912.34 364.75h3.5v3.5h-3.5zM921.40 370.95h3.5v3.5h-3.5zM930.29 377.40h3.5v3.5h-3.5zM938.99 384.10h3.5v3.5h-3.5zM947.49 391.04h3.5v3.5h-3.5zM955.81 398.22h3.5v3.5h-3.5zM963.91 405.62h3.5v3.5h-3.5zM971.81 413.25h3.5v3.5h-3.5zM979.49 421.09h3.5v3.5h-3.5zM986.95 429.15h3.5v3.5h-3.5zM994.19 437.41h3.5v3.5h-3.5zM1001.19 445.87h3.5v3.5h-3.5zM1007.95 454.52h3.5v3.5h-3.5zM1014.46 463.36h3.5v3.5h-3.5zM1020.73 472.38h3.5v3.5h-3.5zM1026.74 481.56h3.5v3.5h-3.5zM1032.49 490.91h3.5v3.5h-3.5zM1037.98 500.42h3.5v3.5h-3.5zM1043.21 510.08h3.5v3.5h-3.5zM1048.16 519.88h3.5v3.5h-3.5zM1052.83 529.82h3.5v3.5h-3.5zM1057.23 539.88h3.5v3.5h-3.5zM1061.34 550.06h3.5v3.5h-3.5zM1065.17 560.35h3.5v3.5h-3.5zM1068.71 570.74h3.5v3.5h-3.5zM1071.95 581.23h3.5v3.5h-3.5zM1074.90 591.81h3.5v3.5h-3.5zM1077.56 602.46h3.5v3.5h-3.5zM1079.92 613.19h3.5v3.5h-3.5zM1081.98 623.97h3.5v3.5h-3.5zM1083.73 634.81h3.5v3.5h-3.5zM1085.18 645.69h3.5v3.5h-3.5zM1086.33 656.61h3.5v3.5h-3.5zM1087.17 667.56h3.5v3.5h-3.5zM1087.71 678.53h3.5v3.5h-3.5zM1087.94 689.50h3.5v3.5h-3.5zM1087.86 700.48h3.5v3.5h-3.5zM1087.48 711.46h3.5v3.5h-3.5zM1086.79 722.42h3.5v3.5h-3.5zM1085.80 733.35h3.5v3.5h-3.5zM1084.50 744.25h3.5v3.5h-3.5zM1082.89 755.12h3.5v3.5h-3.5zM1080.99 765.93h3.5v3.5h-3.5zM1078.78 776.68h3.5v3.5h-3.5zM1076.27 787.37h3.5v3.5h-3.5zM1073.47 797.99h3.5v3.5h-3.5zM1070.37 808.52h3.5v3.5h-3.5zM1066.97 818.96h3.5v3.5h-3.5zM1063.29 829.31h3.5v3.5h-3.5zM1059.32 839.55h3.5v3.5h-3.5zM1055.06 849.67h3.5v3.5h-3.5zM1050.53 859.67h3.5v3.5h-3.5zM1045.71 869.54h3.5v3.5h-3.5zM1040.63 879.27h3.5v3.5h-3.5zM1035.27 888.85h3.5v3.5h-3.5zM1029.65 898.28h3.5v3.5h-3.5zM1023.77 907.55h3.5v3.5h-3.5zM1017.63 916.65h3.5v3.5h-3.5zM1011.23 925.58h3.5v3.5h-3.5zM1004.60 934.33h3.5v3.5h-3.5zM997.72 942.89h3.5v3.5h-3.5zM990.60 951.25h3.5v3.5h-3.5zM983.25 959.41h3.5v3.5h-3.5zM975.68 967.36h3.5v3.5h-3.5zM967.89 975.09h3.5v3.5h-3.5zM959.89 982.61h3.5v3.5h-3.5zM951.67 989.90h3.5v3.5h-3.5zM943.26 996.96h3.5v3.5h-3.5zM934.66 1003.78h3.5v3.5h-3.5zM925.87 1010.36h3.5v3.5h-3.5zM916.90 1016.68h3.5v3.5h-3.5zM907.75 1022.76h3.5v3.5h-3.5zM898.44 1028.58h3.5v3.5h-3.5zM888.97 1034.14h3.5v3.5h-3.5zM879.35 1039.42h3.5v3.5h-3.5zM869.58 1044.44h3.5v3.5h-3.5zM859.68 1049.19h3.5v3.5h-3.5zM849.65 1053.65h3.5v3.5h-3.5zM839.50 1057.84h3.5v3.5h-3.5zM829.23 1061.74h3.5v3.5h-3.5zM818.86 1065.35h3.5v3.5h-3.5zM808.40 1068.67h3.5v3.5h-3.5zM797.84 1071.69h3.5v3.5h-3.5zM787.21 1074.43h3.5v3.5h-3.5zM776.50 1076.86h3.5v3.5h-3.5zM765.73 1078.99h3.5v3.5h-3.5zM754.90 1080.82h3.5v3.5h-3.5zM744.03 1082.35h3.5v3.5h-3.5zM733.12 1083.57h3.5v3.5h-3.5zM722.18 1084.49h3.5v3.5h-3.5zM711.22 1085.11h3.5v3.5h-3.5zM700.24 1085.41h3.5v3.5h-3.5zM689.26 1085.41h3.5v3.5h-3.5zM678.28 1085.11h3.5v3.5h-3.5zM667.32 1084.49h3.5v3.5h-3.5zM656.38 1083.57h3.5v3.5h-3.5zM645.47 1082.35h3.5v3.5h-3.5zM634.60 1080.82h3.5v3.5h-3.5zM623.77 1078.99h3.5v3.5h-3.5zM613.00 1076.86h3.5v3.5h-3.5zM602.29 1074.43h3.5v3.5h-3.5zM591.66 1071.69h3.5v3.5h-3.5zM581.10 1068.67h3.5v3.5h-3.5zM570.64 1065.35h3.5v3.5h-3.5zM560.27 1061.74h3.5v3.5h-3.5zM550.00 1057.84h3.5v3.5h-3.5zM539.85 1053.65h3.5v3.5h-3.5zM529.82 1049.19h3.5v3.5h-3.5zM519.92 1044.44h3.5v3.5h-3.5zM510.15 1039.42h3.5v3.5h-3.5zM500.53 1034.14h3.5v3.5h-3.5zM491.06 1028.58h3.5v3.5h-3.5zM481.75 1022.76h3.5v3.5h-3.5zM472.60 1016.68h3.5v3.5h-3.5zM463.63 1010.36h3.5v3.5h-3.5zM454.84 1003.78h3.5v3.5h-3.5zM446.24 996.96h3.5v3.5h-3.5zM437.83 989.90h3.5v3.5h-3.5zM429.61 982.61h3.5v3.5h-3.5zM421.61 975.09h3.5v3.5h-3.5zM413.82 967.36h3.5v3.5h-3.5zM406.25 959.41h3.5v3.5h-3.5zM398.90 951.25h3.5v3.5h-3.5zM391.78 942.89h3.5v3.5h-3.5zM384.90 934.33h3.5v3.5h-3.5zM378.27 925.58h3.5v3.5h-3.5zM371.87 916.65h3.5v3.5h-3.5zM365.73 907.55h3.5v3.5h-3.5zM359.85 898.28h3.5v3.5h-3.5zM354.23 888.85h3.5v3.5h-3.5zM348.87 879.27h3.5v3.5h-3.5zM343.79 869.54h3.5v3.5h-3.5zM338.97 859.67h3.5v3.5h-3.5zM334.44 849.67h3.5v3.5h-3.5zM330.18 839.55h3.5v3.5h-3.5zM326.21 829.31h3.5v3.5h-3.5zM322.53 818.96h3.5v3.5h-3.5zM319.13 808.52h3.5v3.5h-3.5zM316.03 797.99h3.5v3.5h-3.5zM313.23 787.37h3.5v3.5h-3.5zM310.72 776.68h3.5v3.5h-3.5zM308.51 765.93h3.5v3.5h-3.5zM306.61 755.12h3.5v3.5h-3.5zM305.00 744.25h3.5v3.5h-3.5zM303.70 733.35h3.5v3.5h-3.5zM302.71 722.42h3.5v3.5h-3.5zM302.02 711.46h3.5v3.5h-3.5zM301.64 700.48h3.5v3.5h-3.5zM301.56 689.50h3.5v3.5h-3.5zM301.79 678.53h3.5v3.5h-3.5zM302.33 667.56h3.5v3.5h-3.5zM303.17 656.61h3.5v3.5h-3.5zM304.32 645.69h3.5v3.5h-3.5zM305.77 634.81h3.5v3.5h-3.5zM307.52 623.97h3.5v3.5h-3.5zM309.58 613.19h3.5v3.5h-3.5zM311.94 602.46h3.5v3.5h-3.5zM314.60 591.81h3.5v3.5h-3.5zM317.55 581.23h3.5v3.5h-3.5zM320.79 570.74h3.5v3.5h-3.5zM324.33 560.35h3.5v3.5h-3.5zM328.16 550.06h3.5v3.5h-3.5zM332.27 539.88h3.5v3.5h-3.5zM336.67 529.82h3.5v3.5h-3.5zM341.34 519.88h3.5v3.5h-3.5zM346.29 510.08h3.5v3.5h-3.5zM351.52 500.42h3.5v3.5h-3.5zM357.01 490.91h3.5v3.5h-3.5zM362.76 481.56h3.5v3.5h-3.5zM368.77 472.38h3.5v3.5h-3.5zM375.04 463.36h3.5v3.5h-3.5zM381.55 454.52h3.5v3.5h-3.5zM388.31 445.87h3.5v3.5h-3.5zM395.31 437.41h3.5v3.5h-3.5zM402.55 429.15h3.5v3.5h-3.5zM410.01 421.09h3.5v3.5h-3.5zM417.69 413.25h3.5v3.5h-3.5zM425.59 405.62h3.5v3.5h-3.5zM433.69 398.22h3.5v3.5h-3.5zM442.01 391.04h3.5v3.5h-3.5zM450.51 384.10h3.5v3.5h-3.5zM459.21 377.40h3.5v3.5h-3.5zM468.10 370.95h3.5v3.5h-3.5zM477.16 364.75h3.5v3.5h-3.5zM486.39 358.80h3.5v3.5h-3.5zM495.78 353.11h3.5v3.5h-3.5zM505.32 347.69h3.5v3.5h-3.5zM515.02 342.53h3.5v3.5h-3.5zM524.85 337.65h3.5v3.5h-3.5zM534.82 333.04h3.5v3.5h-3.5zM544.91 328.72h3.5v3.5h-3.5zM555.12 324.68h3.5v3.5h-3.5zM565.44 320.92h3.5v3.5h-3.5zM575.86 317.46h3.5v3.5h-3.5zM586.37 314.28h3.5v3.5h-3.5zM596.97 311.40h3.5v3.5h-3.5zM607.64 308.82h3.5v3.5h-3.5zM618.38 306.54h3.5v3.5h-3.5zM629.18 304.56h3.5v3.5h-3.5zM640.03 302.88h3.5v3.5h-3.5zM650.92 301.50h3.5v3.5h-3.5zM661.85 300.43h3.5v3.5h-3.5zM672.80 299.66h3.5v3.5h-3.5zM683.77 299.20h3.5v3.5h-3.5zM694.75 180.95h3.5v3.5h-3.5zM705.75 181.07h3.5v3.5h-3.5zM716.75 181.42h3.5v3.5h-3.5zM727.73 182.01h3.5v3.5h-3.5zM738.70 182.84h3.5v3.5h-3.5zM749.65 183.91h3.5v3.5h-3.5zM760.58 185.21h3.5v3.5h-3.5zM771.47 186.74h3.5v3.5h-3.5zM782.33 188.51h3.5v3.5h-3.5zM793.15 190.51h3.5v3.5h-3.5zM803.92 192.74h3.5v3.5h-3.5zM814.65 195.21h3.5v3.5h-3.5zM825.31 197.90h3.5v3.5h-3.5zM835.92 200.82h3.5v3.5h-3.5zM846.46 203.98h3.5v3.5h-3.5zM856.93 207.35h3.5v3.5h-3.5zM867.33 210.95h3.5v3.5h-3.5zM877.64 214.78h3.5v3.5h-3.5zM887.87 218.82h3.5v3.5h-3.5zM898.01 223.09h3.5v3.5h-3.5zM908.06 227.57h3.5v3.5h-3.5zM918.01 232.27h3.5v3.5h-3.5zM927.86 237.18h3.5v3.5h-3.5zM937.59 242.30h3.5v3.5h-3.5zM947.22 247.63h3.5v3.5h-3.5zM956.73 253.16h3.5v3.5h-3.5zM966.11 258.90h3.5v3.5h-3.5zM975.37 264.84h3.5v3.5h-3.5zM984.50 270.98h3.5v3.5h-3.5zM993.50 277.31h3.5v3.5h-3.5zM1002.36 283.83h3.5v3.5h-3.5zM1011.08 290.55h3.5v3.5h-3.5zM1019.65 297.45h3.5v3.5h-3.5zM1028.07 304.53h3.5v3.5h-3.5zM1036.33 311.79h3.5v3.5h-3.5zM1044.44 319.23h3.5v3.5h-3.5zM1052.38 326.84h3.5v3.5h-3.5zM1060.16 334.62h3.5v3.5h-3.5zM1067.77 342.56h3.5v3.5h-3.5zM1075.21 350.67h3.5v3.5h-3.5zM1082.47 358.93h3.5v3.5h-3.5zM1089.55 367.35h3.5v3.5h-3.5zM1096.45 375.92h3.5v3.5h-3.5zM1103.17 384.64h3.5v3.5h-3.5zM1109.69 393.50h3.5v3.5h-3.5zM1116.02 402.50h3.5v3.5h-3.5zM1122.16 411.63h3.5v3.5h-3.5zM1128.10 420.89h3.5v3.5h-3.5zM1133.84 430.27h3.5v3.5h-3.5zM1139.37 439.78h3.5v3.5h-3.5zM1144.70 449.41h3.5v3.5h-3.5zM1149.82 459.14h3.5v3.5h-3.5zM1154.73 468.99h3.5v3.5h-3.5zM1159.43 478.94h3.5v3.5h-3.5zM1163.91 488.99h3.5v3.5h-3.5zM1168.18 499.13h3.5v3.5h-3.5zM1172.22 509.36h3.5v3.5h-3.5zM1176.05 519.67h3.5v3.5h-3.5zM1179.65 530.07h3.5v3.5h-3.5zM1183.02 540.54h3.5v3.5h-3.5zM1186.18 551.08h3.5v3.5h-3.5zM1189.10 561.69h3.5v3.5h-3.5zM1191.79 572.35h3.5v3.5h-3.5zM1194.26 583.08h3.5v3.5h-3.5zM1196.49 593.85h3.5v3.5h-3.5zM1198.49 604.67h3.5v3.5h-3.5zM1200.26 615.53h3.5v3.5h-3.5zM1201.79 626.42h3.5v3.5h-3.5zM1203.09 637.35h3.5v3.5h-3.5zM1204.16 648.30h3.5v3.5h-3.5zM1204.99 659.27h3.5v3.5h-3.5zM1205.58 670.25h3.5v3.5h-3.5zM1205.93 681.25h3.5v3.5h-3.5zM1206.05 692.25h3.5v3.5h-3.5zM1205.93 703.25h3.5v3.5h-3.5zM1205.58 714.25h3.5v3.5h-3.5zM1204.99 725.23h3.5v3.5h-3.5zM1204.16 736.20h3.5v3.5h-3.5zM1203.09 747.15h3.5v3.5h-3.5zM1201.79 758.08h3.5v3.5h-3.5zM1200.26 768.97h3.5v3.5h-3.5zM1198.49 779.83h3.5v3.5h-3.5zM1196.49 790.65h3.5v3.5h-3.5zM1194.26 801.42h3.5v3.5h-3.5zM1191.79 812.15h3.5v3.5h-3.5zM1189.10 822.81h3.5v3.5h-3.5zM1186.18 833.42h3.5v3.5h-3.5zM1183.02 843.96h3.5v3.5h-3.5zM1179.65 854.43h3.5v3.5h-3.5zM1176.05 864.83h3.5v3.5h-3.5zM1172.22 875.14h3.5v3.5h-3.5zM1168.18 885.37h3.5v3.5h-3.5zM1163.91 895.51h3.5v3.5h-3.5zM1159.43 905.56h3.5v3.5h-3.5zM1154.73 915.51h3.5v3.5h-3.5zM1149.82 925.36h3.5v3.5h-3.5zM1144.70 935.09h3.5v3.5h-3.5zM1139.37 944.72h3.5v3.5h-3.5zM1133.84 954.23h3.5v3.5h-3.5zM1128.10 963.61h3.5v3.5h-3.5zM1122.16 972.87h3.5v3.5h-3.5zM1116.02 982.00h3.5v3.5h-3.5zM1109.69 991.00h3.5v3.5h-3.5zM1103.17 999.86h3.5v3.5h-3.5zM1096.45 1008.58h3.5v3.5h-3.5zM1089.55 1017.15h3.5v3.5h-3.5zM1082.47 1025.57h3.5v3.5h-3.5zM1075.21 1033.83h3.5v3.5h-3.5zM1067.77 1041.94h3.5v3.5h-3.5zM1060.16 1049.88h3.5v3.5h-3.5zM1052.38 1057.66h3.5v3.5h-3.5zM1044.44 1065.27h3.5v3.5h-3.5zM1036.33 1072.71h3.5v3.5h-3.5zM1028.07 1079.97h3.5v3.5h-3.5zM1019.65 1087.05h3.5v3.5h-3.5zM1011.08 1093.95h3.5v3.5h-3.5zM1002.36 1100.67h3.5v3.5h-3.5zM993.50 1107.19h3.5v3.5h-3.5zM984.50 1113.52h3.5v3.5h-3.5zM975.37 1119.66h3.5v3.5h-3.5zM966.11 1125.60h3.5v3.5h-3.5zM956.73 1131.34h3.5v3.5h-3.5zM947.22 1136.87h3.5v3.5h-3.5zM937.59 1142.20h3.5v3.5h-3.5zM927.86 1147.32h3.5v3.5h-3.5zM918.01 1152.23h3.5v3.5h-3.5zM908.06 1156.93h3.5v3.5h-3.5zM898.01 1161.41h3.5v3.5h-3.5zM887.87 1165.68h3.5v3.5h-3.5zM877.64 1169.72h3.5v3.5h-3.5zM867.33 1173.55h3.5v3.5h-3.5zM856.93 1177.15h3.5v3.5h-3.5zM846.46 1180.52h3.5v3.5h-3.5zM835.92 1183.68h3.5v3.5h-3.5zM825.31 1186.60h3.5v3.5h-3.5zM814.65 1189.29h3.5v3.5h-3.5zM803.92 1191.76h3.5v3.5h-3.5zM793.15 1193.99h3.5v3.5h-3.5zM782.33 1195.99h3.5v3.5h-3.5zM771.47 1197.76h3.5v3.5h-3.5zM760.58 1199.29h3.5v3.5h-3.5zM749.65 1200.59h3.5v3.5h-3.5zM738.70 1201.66h3.5v3.5h-3.5zM727.73 1202.49h3.5v3.5h-3.5zM716.75 1203.08h3.5v3.5h-3.5zM705.75 1203.43h3.5v3.5h-3.5zM694.75 1203.55h3.5v3.5h-3.5zM683.75 1203.43h3.5v3.5h-3.5zM672.75 1203.08h3.5v3.5h-3.5zM661.77 1202.49h3.5v3.5h-3.5zM650.80 1201.66h3.5v3.5h-3.5zM639.85 1200.59h3.5v3.5h-3.5zM628.92 1199.29h3.5v3.5h-3.5zM618.03 1197.76h3.5v3.5h-3.5zM607.17 1195.99h3.5v3.5h-3.5zM596.35 1193.99h3.5v3.5h-3.5zM585.58 1191.76h3.5v3.5h-3.5zM574.85 1189.29h3.5v3.5h-3.5zM564.19 1186.60h3.5v3.5h-3.5zM553.58 1183.68h3.5v3.5h-3.5zM543.04 1180.52h3.5v3.5h-3.5zM532.57 1177.15h3.5v3.5h-3.5zM522.17 1173.55h3.5v3.5h-3.5zM511.86 1169.72h3.5v3.5h-3.5zM501.63 1165.68h3.5v3.5h-3.5zM491.49 1161.41h3.5v3.5h-3.5zM481.44 1156.93h3.5v3.5h-3.5zM471.49 1152.23h3.5v3.5h-3.5zM461.64 1147.32h3.5v3.5h-3.5zM451.91 1142.20h3.5v3.5h-3.5zM442.28 1136.87h3.5v3.5h-3.5zM432.77 1131.34h3.5v3.5h-3.5zM423.39 1125.60h3.5v3.5h-3.5zM414.13 1119.66h3.5v3.5h-3.5zM405.00 1113.52h3.5v3.5h-3.5zM396.00 1107.19h3.5v3.5h-3.5zM387.14 1100.67h3.5v3.5h-3.5zM378.42 1093.95h3.5v3.5h-3.5zM369.85 1087.05h3.5v3.5h-3.5zM361.43 1079.97h3.5v3.5h-3.5zM353.17 1072.71h3.5v3.5h-3.5zM345.06 1065.27h3.5v3.5h-3.5zM337.12 1057.66h3.5v3.5h-3.5zM329.34 1049.88h3.5v3.5h-3.5zM321.73 1041.94h3.5v3.5h-3.5zM314.29 1033.83h3.5v3.5h-3.5zM307.03 1025.57h3.5v3.5h-3.5zM299.95 1017.15h3.5v3.5h-3.5zM293.05 1008.58h3.5v3.5h-3.5zM286.33 999.86h3.5v3.5h-3.5zM279.81 991.00h3.5v3.5h-3.5zM273.48 982.00h3.5v3.5h-3.5zM267.34 972.87h3.5v3.5h-3.5zM261.40 963.61h3.5v3.5h-3.5zM255.66 954.23h3.5v3.5h-3.5zM250.13 944.72h3.5v3.5h-3.5zM244.80 935.09h3.5v3.5h-3.5zM239.68 925.36h3.5v3.5h-3.5zM234.77 915.51h3.5v3.5h-3.5zM230.07 905.56h3.5v3.5h-3.5zM225.59 895.51h3.5v3.5h-3.5zM221.32 885.37h3.5v3.5h-3.5zM217.28 875.14h3.5v3.5h-3.5zM213.45 864.83h3.5v3.5h-3.5zM209.85 854.43h3.5v3.5h-3.5zM206.48 843.96h3.5v3.5h-3.5zM203.32 833.42h3.5v3.5h-3.5zM200.40 822.81h3.5v3.5h-3.5zM197.71 812.15h3.5v3.5h-3.5zM195.24 801.42h3.5v3.5h-3.5zM193.01 790.65h3.5v3.5h-3.5zM191.01 779.83h3.5v3.5h-3.5zM189.24 768.97h3.5v3.5h-3.5zM187.71 758.08h3.5v3.5h-3.5zM186.41 747.15h3.5v3.5h-3.5zM185.34 736.20h3.5v3.5h-3.5zM184.51 725.23h3.5v3.5h-3.5zM183.92 714.25h3.5v3.5h-3.5zM183.57 703.25h3.5v3.5h-3.5zM183.45 692.25h3.5v3.5h-3.5zM183.57 681.25h3.5v3.5h-3.5zM183.92 670.25h3.5v3.5h-3.5zM184.51 659.27h3.5v3.5h-3.5zM185.34 648.30h3.5v3.5h-3.5zM186.41 637.35h3.5v3.5h-3.5zM187.71 626.42h3.5v3.5h-3.5zM189.24 615.53h3.5v3.5h-3.5zM191.01 604.67h3.5v3.5h-3.5zM193.01 593.85h3.5v3.5h-3.5zM195.24 583.08h3.5v3.5h-3.5zM197.71 572.35h3.5v3.5h-3.5zM200.40 561.69h3.5v3.5h-3.5zM203.32 551.08h3.5v3.5h-3.5zM206.48 540.54h3.5v3.5h-3.5zM209.85 530.07h3.5v3.5h-3.5zM213.45 519.67h3.5v3.5h-3.5zM217.28 509.36h3.5v3.5h-3.5zM221.32 499.13h3.5v3.5h-3.5zM225.59 488.99h3.5v3.5h-3.5zM230.07 478.94h3.5v3.5h-3.5zM234.77 468.99h3.5v3.5h-3.5zM239.68 459.14h3.5v3.5h-3.5zM244.80 449.41h3.5v3.5h-3.5zM250.13 439.78h3.5v3.5h-3.5zM255.66 430.27h3.5v3.5h-3.5zM261.40 420.89h3.5v3.5h-3.5zM267.34 411.63h3.5v3.5h-3.5zM273.48 402.50h3.5v3.5h-3.5zM279.81 393.50h3.5v3.5h-3.5zM286.33 384.64h3.5v3.5h-3.5zM293.05 375.92h3.5v3.5h-3.5zM299.95 367.35h3.5v3.5h-3.5zM307.03 358.93h3.5v3.5h-3.5zM314.29 350.67h3.5v3.5h-3.5zM321.73 342.56h3.5v3.5h-3.5zM329.34 334.62h3.5v3.5h-3.5zM337.12 326.84h3.5v3.5h-3.5zM345.06 319.23h3.5v3.5h-3.5zM353.17 311.79h3.5v3.5h-3.5zM361.43 304.53h3.5v3.5h-3.5zM369.85 297.45h3.5v3.5h-3.5zM378.42 290.55h3.5v3.5h-3.5zM387.14 283.83h3.5v3.5h-3.5zM396.00 277.31h3.5v3.5h-3.5zM405.00 270.98h3.5v3.5h-3.5zM414.13 264.84h3.5v3.5h-3.5zM423.39 258.90h3.5v3.5h-3.5zM432.77 253.16h3.5v3.5h-3.5zM442.28 247.63h3.5v3.5h-3.5zM451.91 242.30h3.5v3.5h-3.5zM461.64 237.18h3.5v3.5h-3.5zM471.49 232.27h3.5v3.5h-3.5zM481.44 227.57h3.5v3.5h-3.5zM491.49 223.09h3.5v3.5h-3.5zM501.63 218.82h3.5v3.5h-3.5zM511.86 214.78h3.5v3.5h-3.5zM522.17 210.95h3.5v3.5h-3.5zM532.57 207.35h3.5v3.5h-3.5zM543.04 203.98h3.5v3.5h-3.5zM553.58 200.82h3.5v3.5h-3.5zM564.19 197.90h3.5v3.5h-3.5zM574.85 195.21h3.5v3.5h-3.5zM585.58 192.74h3.5v3.5h-3.5zM596.35 190.51h3.5v3.5h-3.5zM607.17 188.51h3.5v3.5h-3.5zM618.03 186.74h3.5v3.5h-3.5zM628.92 185.21h3.5v3.5h-3.5zM639.85 183.91h3.5v3.5h-3.5zM650.80 182.84h3.5v3.5h-3.5zM661.77 182.01h3.5v3.5h-3.5zM672.75 181.42h3.5v3.5h-3.5zM683.75 181.07h3.5v3.5h-3.5zM694.75 75.25h3.5v3.5h-3.5zM705.76 75.35h3.5v3.5h-3.5zM716.77 75.64h3.5v3.5h-3.5zM727.77 76.13h3.5v3.5h-3.5zM738.77 76.82h3.5v3.5h-3.5zM749.74 77.71h3.5v3.5h-3.5zM760.70 78.79h3.5v3.5h-3.5zM771.64 80.06h3.5v3.5h-3.5zM782.56 81.53h3.5v3.5h-3.5zM793.45 83.19h3.5v3.5h-3.5zM804.30 85.05h3.5v3.5h-3.5zM815.12 87.11h3.5v3.5h-3.5zM825.90 89.35h3.5v3.5h-3.5zM836.64 91.79h3.5v3.5h-3.5zM847.34 94.42h3.5v3.5h-3.5zM857.98 97.23h3.5v3.5h-3.5zM868.58 100.24h3.5v3.5h-3.5zM879.12 103.44h3.5v3.5h-3.5zM889.60 106.82h3.5v3.5h-3.5zM900.02 110.40h3.5v3.5h-3.5zM910.37 114.15h3.5v3.5h-3.5zM920.65 118.09h3.5v3.5h-3.5zM930.87 122.22h3.5v3.5h-3.5zM941.00 126.52h3.5v3.5h-3.5zM951.06 131.01h3.5v3.5h-3.5zM961.04 135.67h3.5v3.5h-3.5zM970.93 140.51h3.5v3.5h-3.5zM980.73 145.53h3.5v3.5h-3.5zM990.45 150.72h3.5v3.5h-3.5zM1000.07 156.09h3.5v3.5h-3.5zM1009.59 161.62h3.5v3.5h-3.5zM1019.01 167.33h3.5v3.5h-3.5zM1028.33 173.20h3.5v3.5h-3.5zM1037.54 179.23h3.5v3.5h-3.5zM1046.64 185.43h3.5v3.5h-3.5zM1055.63 191.79h3.5v3.5h-3.5zM1064.50 198.32h3.5v3.5h-3.5zM1073.26 204.99h3.5v3.5h-3.5zM1081.90 211.83h3.5v3.5h-3.5zM1090.41 218.81h3.5v3.5h-3.5zM1098.80 225.95h3.5v3.5h-3.5zM1107.06 233.24h3.5v3.5h-3.5zM1115.18 240.67h3.5v3.5h-3.5zM1123.18 248.25h3.5v3.5h-3.5zM1131.03 255.97h3.5v3.5h-3.5zM1138.75 263.82h3.5v3.5h-3.5zM1146.33 271.82h3.5v3.5h-3.5zM1153.76 279.94h3.5v3.5h-3.5zM1161.05 288.20h3.5v3.5h-3.5zM1168.19 296.59h3.5v3.5h-3.5zM1175.17 305.10h3.5v3.5h-3.5zM1182.01 313.74h3.5v3.5h-3.5zM1188.68 322.50h3.5v3.5h-3.5zM1195.21 331.37h3.5v3.5h-3.5zM1201.57 340.36h3.5v3.5h-3.5zM1207.77 349.46h3.5v3.5h-3.5zM1213.80 358.67h3.5v3.5h-3.5zM1219.67 367.99h3.5v3.5h-3.5zM1225.38 377.41h3.5v3.5h-3.5zM1230.91 386.93h3.5v3.5h-3.5zM1236.28 396.55h3.5v3.5h-3.5zM1241.47 406.27h3.5v3.5h-3.5zM1246.49 416.07h3.5v3.5h-3.5zM1251.33 425.96h3.5v3.5h-3.5zM1255.99 435.94h3.5v3.5h-3.5zM1260.48 446.00h3.5v3.5h-3.5zM1264.78 456.13h3.5v3.5h-3.5zM1268.91 466.35h3.5v3.5h-3.5zM1272.85 476.63h3.5v3.5h-3.5zM1276.60 486.98h3.5v3.5h-3.5zM1280.18 497.40h3.5v3.5h-3.5zM1283.56 507.88h3.5v3.5h-3.5zM1286.76 518.42h3.5v3.5h-3.5zM1289.77 529.02h3.5v3.5h-3.5zM1292.58 539.66h3.5v3.5h-3.5zM1295.21 550.36h3.5v3.5h-3.5zM1297.65 561.10h3.5v3.5h-3.5zM1299.89 571.88h3.5v3.5h-3.5zM1301.95 582.70h3.5v3.5h-3.5zM1303.81 593.55h3.5v3.5h-3.5zM1305.47 604.44h3.5v3.5h-3.5zM1306.94 615.36h3.5v3.5h-3.5zM1308.21 626.30h3.5v3.5h-3.5zM1309.29 637.26h3.5v3.5h-3.5zM1310.18 648.23h3.5v3.5h-3.5zM1310.87 659.23h3.5v3.5h-3.5zM1311.36 670.23h3.5v3.5h-3.5zM1311.65 681.24h3.5v3.5h-3.5zM1311.75 692.25h3.5v3.5h-3.5zM1311.65 703.26h3.5v3.5h-3.5zM1311.36 714.27h3.5v3.5h-3.5zM1310.87 725.27h3.5v3.5h-3.5zM1310.18 736.27h3.5v3.5h-3.5zM1309.29 747.24h3.5v3.5h-3.5zM1308.21 758.20h3.5v3.5h-3.5zM1306.94 769.14h3.5v3.5h-3.5zM1305.47 780.06h3.5v3.5h-3.5zM1303.81 790.95h3.5v3.5h-3.5zM1301.95 801.80h3.5v3.5h-3.5zM1299.89 812.62h3.5v3.5h-3.5zM1297.65 823.40h3.5v3.5h-3.5zM1295.21 834.14h3.5v3.5h-3.5zM1292.58 844.84h3.5v3.5h-3.5zM1289.77 855.48h3.5v3.5h-3.5zM1286.76 866.08h3.5v3.5h-3.5zM1283.56 876.62h3.5v3.5h-3.5zM1280.18 887.10h3.5v3.5h-3.5zM1276.60 897.52h3.5v3.5h-3.5zM1272.85 907.87h3.5v3.5h-3.5zM1268.91 918.15h3.5v3.5h-3.5zM1264.78 928.37h3.5v3.5h-3.5zM1260.48 938.50h3.5v3.5h-3.5zM1255.99 948.56h3.5v3.5h-3.5zM1251.33 958.54h3.5v3.5h-3.5zM1246.49 968.43h3.5v3.5h-3.5zM1241.47 978.23h3.5v3.5h-3.5zM1236.28 987.95h3.5v3.5h-3.5zM1230.91 997.57h3.5v3.5h-3.5zM1225.38 1007.09h3.5v3.5h-3.5zM1219.67 1016.51h3.5v3.5h-3.5zM1213.80 1025.83h3.5v3.5h-3.5zM1207.77 1035.04h3.5v3.5h-3.5zM1201.57 1044.14h3.5v3.5h-3.5zM1195.21 1053.13h3.5v3.5h-3.5zM1188.68 1062.00h3.5v3.5h-3.5zM1182.01 1070.76h3.5v3.5h-3.5zM1175.17 1079.40h3.5v3.5h-3.5zM1168.19 1087.91h3.5v3.5h-3.5zM1161.05 1096.30h3.5v3.5h-3.5zM1153.76 1104.56h3.5v3.5h-3.5zM1146.33 1112.68h3.5v3.5h-3.5zM1138.75 1120.68h3.5v3.5h-3.5zM1131.03 1128.53h3.5v3.5h-3.5zM1123.18 1136.25h3.5v3.5h-3.5zM1115.18 1143.83h3.5v3.5h-3.5zM1107.06 1151.26h3.5v3.5h-3.5zM1098.80 1158.55h3.5v3.5h-3.5zM1090.41 1165.69h3.5v3.5h-3.5zM1081.90 1172.67h3.5v3.5h-3.5zM1073.26 1179.51h3.5v3.5h-3.5zM1064.50 1186.18h3.5v3.5h-3.5zM1055.63 1192.71h3.5v3.5h-3.5zM1046.64 1199.07h3.5v3.5h-3.5zM1037.54 1205.27h3.5v3.5h-3.5zM1028.33 1211.30h3.5v3.5h-3.5zM1019.01 1217.17h3.5v3.5h-3.5zM1009.59 1222.88h3.5v3.5h-3.5zM1000.07 1228.41h3.5v3.5h-3.5zM990.45 1233.78h3.5v3.5h-3.5zM980.73 1238.97h3.5v3.5h-3.5zM970.93 1243.99h3.5v3.5h-3.5zM961.04 1248.83h3.5v3.5h-3.5zM951.06 1253.49h3.5v3.5h-3.5zM941.00 1257.98h3.5v3.5h-3.5zM930.87 1262.28h3.5v3.5h-3.5zM920.65 1266.41h3.5v3.5h-3.5zM910.37 1270.35h3.5v3.5h-3.5zM900.02 1274.10h3.5v3.5h-3.5zM889.60 1277.68h3.5v3.5h-3.5zM879.12 1281.06h3.5v3.5h-3.5zM868.58 1284.26h3.5v3.5h-3.5zM857.98 1287.27h3.5v3.5h-3.5zM847.34 1290.08h3.5v3.5h-3.5zM836.64 1292.71h3.5v3.5h-3.5zM825.90 1295.15h3.5v3.5h-3.5zM815.12 1297.39h3.5v3.5h-3.5zM804.30 1299.45h3.5v3.5h-3.5zM793.45 1301.31h3.5v3.5h-3.5zM782.56 1302.97h3.5v3.5h-3.5zM771.64 1304.44h3.5v3.5h-3.5zM760.70 1305.71h3.5v3.5h-3.5zM749.74 1306.79h3.5v3.5h-3.5zM738.77 1307.68h3.5v3.5h-3.5zM727.77 1308.37h3.5v3.5h-3.5zM716.77 1308.86h3.5v3.5h-3.5zM705.76 1309.15h3.5v3.5h-3.5zM694.75 1309.25h3.5v3.5h-3.5zM683.74 1309.15h3.5v3.5h-3.5zM672.73 1308.86h3.5v3.5h-3.5zM661.73 1308.37h3.5v3.5h-3.5zM650.73 1307.68h3.5v3.5h-3.5zM639.76 1306.79h3.5v3.5h-3.5zM628.80 1305.71h3.5v3.5h-3.5zM617.86 1304.44h3.5v3.5h-3.5zM606.94 1302.97h3.5v3.5h-3.5zM596.05 1301.31h3.5v3.5h-3.5zM585.20 1299.45h3.5v3.5h-3.5zM574.38 1297.39h3.5v3.5h-3.5zM563.60 1295.15h3.5v3.5h-3.5zM552.86 1292.71h3.5v3.5h-3.5zM542.16 1290.08h3.5v3.5h-3.5zM531.52 1287.27h3.5v3.5h-3.5zM520.92 1284.26h3.5v3.5h-3.5zM510.38 1281.06h3.5v3.5h-3.5zM499.90 1277.68h3.5v3.5h-3.5zM489.48 1274.10h3.5v3.5h-3.5zM479.13 1270.35h3.5v3.5h-3.5zM468.85 1266.41h3.5v3.5h-3.5zM458.63 1262.28h3.5v3.5h-3.5zM448.50 1257.98h3.5v3.5h-3.5zM438.44 1253.49h3.5v3.5h-3.5zM428.46 1248.83h3.5v3.5h-3.5zM418.57 1243.99h3.5v3.5h-3.5zM408.77 1238.97h3.5v3.5h-3.5zM399.05 1233.78h3.5v3.5h-3.5zM389.43 1228.41h3.5v3.5h-3.5zM379.91 1222.88h3.5v3.5h-3.5zM370.49 1217.17h3.5v3.5h-3.5zM361.17 1211.30h3.5v3.5h-3.5zM351.96 1205.27h3.5v3.5h-3.5zM342.86 1199.07h3.5v3.5h-3.5zM333.87 1192.71h3.5v3.5h-3.5zM325.00 1186.18h3.5v3.5h-3.5zM316.24 1179.51h3.5v3.5h-3.5zM307.60 1172.67h3.5v3.5h-3.5zM299.09 1165.69h3.5v3.5h-3.5zM290.70 1158.55h3.5v3.5h-3.5zM282.44 1151.26h3.5v3.5h-3.5zM274.32 1143.83h3.5v3.5h-3.5zM266.32 1136.25h3.5v3.5h-3.5zM258.47 1128.53h3.5v3.5h-3.5zM250.75 1120.68h3.5v3.5h-3.5zM243.17 1112.68h3.5v3.5h-3.5zM235.74 1104.56h3.5v3.5h-3.5zM228.45 1096.30h3.5v3.5h-3.5zM221.31 1087.91h3.5v3.5h-3.5zM214.33 1079.40h3.5v3.5h-3.5zM207.49 1070.76h3.5v3.5h-3.5zM200.82 1062.00h3.5v3.5h-3.5zM194.29 1053.13h3.5v3.5h-3.5zM187.93 1044.14h3.5v3.5h-3.5zM181.73 1035.04h3.5v3.5h-3.5zM175.70 1025.83h3.5v3.5h-3.5zM169.83 1016.51h3.5v3.5h-3.5zM164.12 1007.09h3.5v3.5h-3.5zM158.59 997.57h3.5v3.5h-3.5zM153.22 987.95h3.5v3.5h-3.5zM148.03 978.23h3.5v3.5h-3.5zM143.01 968.43h3.5v3.5h-3.5zM138.17 958.54h3.5v3.5h-3.5zM133.51 948.56h3.5v3.5h-3.5zM129.02 938.50h3.5v3.5h-3.5zM124.72 928.37h3.5v3.5h-3.5zM120.59 918.15h3.5v3.5h-3.5zM116.65 907.87h3.5v3.5h-3.5zM112.90 897.52h3.5v3.5h-3.5zM109.32 887.10h3.5v3.5h-3.5zM105.94 876.62h3.5v3.5h-3.5zM102.74 866.08h3.5v3.5h-3.5zM99.73 855.48h3.5v3.5h-3.5zM96.92 844.84h3.5v3.5h-3.5zM94.29 834.14h3.5v3.5h-3.5zM91.85 823.40h3.5v3.5h-3.5zM89.61 812.62h3.5v3.5h-3.5zM87.55 801.80h3.5v3.5h-3.5zM85.69 790.95h3.5v3.5h-3.5zM84.03 780.06h3.5v3.5h-3.5zM82.56 769.14h3.5v3.5h-3.5zM81.29 758.20h3.5v3.5h-3.5zM80.21 747.24h3.5v3.5h-3.5zM79.32 736.27h3.5v3.5h-3.5zM78.63 725.27h3.5v3.5h-3.5zM78.63 659.23h3.5v3.5h-3.5zM79.32 648.23h3.5v3.5h-3.5zM80.21 637.26h3.5v3.5h-3.5zM81.29 626.30h3.5v3.5h-3.5zM82.56 615.36h3.5v3.5h-3.5zM84.03 604.44h3.5v3.5h-3.5zM85.69 593.55h3.5v3.5h-3.5zM87.55 582.70h3.5v3.5h-3.5zM89.61 571.88h3.5v3.5h-3.5zM91.85 561.10h3.5v3.5h-3.5zM94.29 550.36h3.5v3.5h-3.5zM96.92 539.66h3.5v3.5h-3.5zM99.73 529.02h3.5v3.5h-3.5zM102.74 518.42h3.5v3.5h-3.5zM105.94 507.88h3.5v3.5h-3.5zM109.32 497.40h3.5v3.5h-3.5zM112.90 486.98h3.5v3.5h-3.5zM116.65 476.63h3.5v3.5h-3.5zM120.59 466.35h3.5v3.5h-3.5zM124.72 456.13h3.5v3.5h-3.5zM129.02 446.00h3.5v3.5h-3.5zM133.51 435.94h3.5v3.5h-3.5zM138.17 425.96h3.5v3.5h-3.5zM143.01 416.07h3.5v3.5h-3.5zM148.03 406.27h3.5v3.5h-3.5zM153.22 396.55h3.5v3.5h-3.5zM158.59 386.93h3.5v3.5h-3.5zM164.12 377.41h3.5v3.5h-3.5zM169.83 367.99h3.5v3.5h-3.5zM175.70 358.67h3.5v3.5h-3.5zM181.73 349.46h3.5v3.5h-3.5zM187.93 340.36h3.5v3.5h-3.5zM194.29 331.37h3.5v3.5h-3.5zM200.82 322.50h3.5v3.5h-3.5zM207.49 313.74h3.5v3.5h-3.5zM214.33 305.10h3.5v3.5h-3.5zM221.31 296.59h3.5v3.5h-3.5zM228.45 288.20h3.5v3.5h-3.5zM235.74 279.94h3.5v3.5h-3.5zM243.17 271.82h3.5v3.5h-3.5zM250.75 263.82h3.5v3.5h-3.5zM258.47 255.97h3.5v3.5h-3.5zM266.32 248.25h3.5v3.5h-3.5zM274.32 240.67h3.5v3.5h-3.5zM282.44 233.24h3.5v3.5h-3.5zM290.70 225.95h3.5v3.5h-3.5zM299.09 218.81h3.5v3.5h-3.5zM307.60 211.83h3.5v3.5h-3.5zM316.24 204.99h3.5v3.5h-3.5zM325.00 198.32h3.5v3.5h-3.5zM333.87 191.79h3.5v3.5h-3.5zM342.86 185.43h3.5v3.5h-3.5zM351.96 179.23h3.5v3.5h-3.5zM361.17 173.20h3.5v3.5h-3.5zM370.49 167.33h3.5v3.5h-3.5zM379.91 161.62h3.5v3.5h-3.5zM389.43 156.09h3.5v3.5h-3.5zM399.05 150.72h3.5v3.5h-3.5zM408.77 145.53h3.5v3.5h-3.5zM418.57 140.51h3.5v3.5h-3.5zM428.46 135.67h3.5v3.5h-3.5zM438.44 131.01h3.5v3.5h-3.5zM448.50 126.52h3.5v3.5h-3.5zM458.63 122.22h3.5v3.5h-3.5zM468.85 118.09h3.5v3.5h-3.5zM479.13 114.15h3.5v3.5h-3.5zM489.48 110.40h3.5v3.5h-3.5zM499.90 106.82h3.5v3.5h-3.5zM510.38 103.44h3.5v3.5h-3.5zM520.92 100.24h3.5v3.5h-3.5zM531.52 97.23h3.5v3.5h-3.5zM542.16 94.42h3.5v3.5h-3.5zM552.86 91.79h3.5v3.5h-3.5zM563.60 89.35h3.5v3.5h-3.5zM574.38 87.11h3.5v3.5h-3.5zM585.20 85.05h3.5v3.5h-3.5zM596.05 83.19h3.5v3.5h-3.5zM606.94 81.53h3.5v3.5h-3.5zM617.86 80.06h3.5v3.5h-3.5zM628.80 78.79h3.5v3.5h-3.5zM639.76 77.71h3.5v3.5h-3.5zM650.73 76.82h3.5v3.5h-3.5zM661.73 76.13h3.5v3.5h-3.5zM672.73 75.64h3.5v3.5h-3.5zM683.74 75.35h3.5v3.5h-3.5zM694.75 657.75h3.5v3.5h-3.5zM694.75 646.75h3.5v3.5h-3.5zM694.75 635.75h3.5v3.5h-3.5zM694.75 624.75h3.5v3.5h-3.5zM694.75 613.75h3.5v3.5h-3.5zM694.75 602.75h3.5v3.5h-3.5zM694.75 591.75h3.5v3.5h-3.5zM694.75 580.75h3.5v3.5h-3.5zM694.75 569.75h3.5v3.5h-3.5zM694.75 558.75h3.5v3.5h-3.5zM694.75 547.75h3.5v3.5h-3.5zM694.75 536.75h3.5v3.5h-3.5zM694.75 525.75h3.5v3.5h-3.5zM694.75 514.75h3.5v3.5h-3.5zM694.75 503.75h3.5v3.5h-3.5zM694.75 492.75h3.5v3.5h-3.5zM694.75 481.75h3.5v3.5h-3.5zM694.75 470.75h3.5v3.5h-3.5zM694.75 459.75h3.5v3.5h-3.5zM694.75 448.75h3.5v3.5h-3.5zM694.75 437.75h3.5v3.5h-3.5zM694.75 426.75h3.5v3.5h-3.5zM694.75 415.75h3.5v3.5h-3.5zM694.75 404.75h3.5v3.5h-3.5zM694.75 393.75h3.5v3.5h-3.5zM694.75 382.75h3.5v3.5h-3.5zM694.75 371.75h3.5v3.5h-3.5zM694.75 360.75h3.5v3.5h-3.5zM694.75 349.75h3.5v3.5h-3.5zM694.75 338.75h3.5v3.5h-3.5zM694.75 327.75h3.5v3.5h-3.5zM694.75 316.75h3.5v3.5h-3.5zM694.75 305.75h3.5v3.5h-3.5zM694.75 294.75h3.5v3.5h-3.5zM694.75 283.75h3.5v3.5h-3.5zM694.75 272.75h3.5v3.5h-3.5zM694.75 261.75h3.5v3.5h-3.5zM694.75 250.75h3.5v3.5h-3.5zM694.75 239.75h3.5v3.5h-3.5zM694.75 228.75h3.5v3.5h-3.5zM694.75 217.75h3.5v3.5h-3.5zM694.75 206.75h3.5v3.5h-3.5zM694.75 195.75h3.5v3.5h-3.5zM694.75 184.75h3.5v3.5h-3.5zM694.75 173.75h3.5v3.5h-3.5zM694.75 162.75h3.5v3.5h-3.5zM694.75 151.75h3.5v3.5h-3.5zM694.75 140.75h3.5v3.5h-3.5zM694.75 129.75h3.5v3.5h-3.5zM694.75 118.75h3.5v3.5h-3.5zM694.75 107.75h3.5v3.5h-3.5zM694.75 96.75h3.5v3.5h-3.5zM694.75 85.75h3.5v3.5h-3.5zM703.68 658.93h3.5v3.5h-3.5zM706.53 648.30h3.5v3.5h-3.5zM709.37 637.68h3.5v3.5h-3.5zM712.22 627.05h3.5v3.5h-3.5zM715.07 616.42h3.5v3.5h-3.5zM717.91 605.80h3.5v3.5h-3.5zM720.76 595.17h3.5v3.5h-3.5zM723.61 584.55h3.5v3.5h-3.5zM726.46 573.92h3.5v3.5h-3.5zM729.30 563.30h3.5v3.5h-3.5zM732.15 552.67h3.5v3.5h-3.5zM735.00 542.05h3.5v3.5h-3.5zM737.84 531.42h3.5v3.5h-3.5zM740.69 520.80h3.5v3.5h-3.5zM743.54 510.17h3.5v3.5h-3.5zM746.38 499.55h3.5v3.5h-3.5zM749.23 488.92h3.5v3.5h-3.5zM752.08 478.30h3.5v3.5h-3.5zM754.93 467.67h3.5v3.5h-3.5zM757.77 457.05h3.5v3.5h-3.5zM760.62 446.42h3.5v3.5h-3.5zM763.47 435.80h3.5v3.5h-3.5zM766.31 425.17h3.5v3.5h-3.5zM769.16 414.55h3.5v3.5h-3.5zM772.01 403.92h3.5v3.5h-3.5zM774.85 393.30h3.5v3.5h-3.5zM777.70 382.67h3.5v3.5h-3.5zM780.55 372.05h3.5v3.5h-3.5zM783.40 361.42h3.5v3.5h-3.5zM786.24 350.80h3.5v3.5h-3.5zM789.09 340.17h3.5v3.5h-3.5zM791.94 329.54h3.5v3.5h-3.5zM794.78 318.92h3.5v3.5h-3.5zM797.63 308.29h3.5v3.5h-3.5zM800.48 297.67h3.5v3.5h-3.5zM803.32 287.04h3.5v3.5h-3.5zM806.17 276.42h3.5v3.5h-3.5zM809.02 265.79h3.5v3.5h-3.5zM811.87 255.17h3.5v3.5h-3.5zM814.71 244.54h3.5v3.5h-3.5zM817.56 233.92h3.5v3.5h-3.5zM820.41 223.29h3.5v3.5h-3.5zM823.25 212.67h3.5v3.5h-3.5zM826.10 202.04h3.5v3.5h-3.5zM828.95 191.42h3.5v3.5h-3.5zM831.79 180.79h3.5v3.5h-3.5zM834.64 170.17h3.5v3.5h-3.5zM837.49 159.54h3.5v3.5h-3.5zM840.34 148.92h3.5v3.5h-3.5zM843.18 138.29h3.5v3.5h-3.5zM846.03 127.67h3.5v3.5h-3.5zM848.88 117.04h3.5v3.5h-3.5zM851.72 106.42h3.5v3.5h-3.5zM854.57 95.79h3.5v3.5h-3.5zM712.00 662.37h3.5v3.5h-3.5zM717.50 652.85h3.5v3.5h-3.5zM723.00 643.32h3.5v3.5h-3.5zM728.50 633.79h3.5v3.5h-3.5zM734.00 624.27h3.5v3.5h-3.5zM739.50 614.74h3.5v3.5h-3.5zM745.00 605.21h3.5v3.5h-3.5zM750.50 595.69h3.5v3.5h-3.5zM756.00 586.16h3.5v3.5h-3.5zM761.50 576.64h3.5v3.5h-3.5zM767.00 567.11h3.5v3.5h-3.5zM772.50 557.58h3.5v3.5h-3.5zM778.00 548.06h3.5v3.5h-3.5zM783.50 538.53h3.5v3.5h-3.5zM789.00 529.00h3.5v3.5h-3.5zM794.50 519.48h3.5v3.5h-3.5zM800.00 509.95h3.5v3.5h-3.5zM805.50 500.43h3.5v3.5h-3.5zM811.00 490.90h3.5v3.5h-3.5zM816.50 481.37h3.5v3.5h-3.5zM822.00 471.85h3.5v3.5h-3.5zM827.50 462.32h3.5v3.5h-3.5zM833.00 452.79h3.5v3.5h-3.5zM838.50 443.27h3.5v3.5h-3.5zM844.00 433.74h3.5v3.5h-3.5zM849.50 424.22h3.5v3.5h-3.5zM855.00 414.69h3.5v3.5h-3.5zM860.50 405.16h3.5v3.5h-3.5zM866.00 395.64h3.5v3.5h-3.5zM871.50 386.11h3.5v3.5h-3.5zM877.00 376.58h3.5v3.5h-3.5zM882.50 367.06h3.5v3.5h-3.5zM888.00 357.53h3.5v3.5h-3.5zM893.50 348.00h3.5v3.5h-3.5zM899.00 338.48h3.5v3.5h-3.5zM904.50 328.95h3.5v3.5h-3.5zM910.00 319.43h3.5v3.5h-3.5zM915.50 309.90h3.5v3.5h-3.5zM921.00 300.37h3.5v3.5h-3.5zM926.50 290.85h3.5v3.5h-3.5zM932.00 281.32h3.5v3.5h-3.5zM937.50 271.79h3.5v3.5h-3.5zM943.00 262.27h3.5v3.5h-3.5zM948.50 252.74h3.5v3.5h-3.5zM954.00 243.22h3.5v3.5h-3.5zM959.50 233.69h3.5v3.5h-3.5zM965.00 224.16h3.5v3.5h-3.5zM970.50 214.64h3.5v3.5h-3.5zM976.00 205.11h3.5v3.5h-3.5zM981.50 195.58h3.5v3.5h-3.5zM987.00 186.06h3.5v3.5h-3.5zM992.50 176.53h3.5v3.5h-3.5zM998.00 167.01h3.5v3.5h-3.5zM1003.50 157.48h3.5v3.5h-3.5zM719.15 667.85h3.5v3.5h-3.5zM726.92 660.08h3.5v3.5h-3.5zM734.70 652.30h3.5v3.5h-3.5zM742.48 644.52h3.5v3.5h-3.5zM750.26 636.74h3.5v3.5h-3.5zM758.04 628.96h3.5v3.5h-3.5zM765.81 621.19h3.5v3.5h-3.5zM773.59 613.41h3.5v3.5h-3.5zM781.37 605.63h3.5v3.5h-3.5zM789.15 597.85h3.5v3.5h-3.5zM796.93 590.07h3.5v3.5h-3.5zM804.71 582.29h3.5v3.5h-3.5zM812.48 574.52h3.5v3.5h-3.5zM820.26 566.74h3.5v3.5h-3.5zM828.04 558.96h3.5v3.5h-3.5zM835.82 551.18h3.5v3.5h-3.5zM843.60 543.40h3.5v3.5h-3.5zM851.37 535.63h3.5v3.5h-3.5zM859.15 527.85h3.5v3.5h-3.5zM866.93 520.07h3.5v3.5h-3.5zM874.71 512.29h3.5v3.5h-3.5zM882.49 504.51h3.5v3.5h-3.5zM890.27 496.73h3.5v3.5h-3.5zM898.04 488.96h3.5v3.5h-3.5zM905.82 481.18h3.5v3.5h-3.5zM913.60 473.40h3.5v3.5h-3.5zM921.38 465.62h3.5v3.5h-3.5zM929.16 457.84h3.5v3.5h-3.5zM936.93 450.07h3.5v3.5h-3.5zM944.71 442.29h3.5v3.5h-3.5zM952.49 434.51h3.5v3.5h-3.5zM960.27 426.73h3.5v3.5h-3.5zM968.05 418.95h3.5v3.5h-3.5zM975.82 411.18h3.5v3.5h-3.5zM983.60 403.40h3.5v3.5h-3.5zM991.38 395.62h3.5v3.5h-3.5zM999.16 387.84h3.5v3.5h-3.5zM1006.94 380.06h3.5v3.5h-3.5zM1014.72 372.28h3.5v3.5h-3.5zM1022.49 364.51h3.5v3.5h-3.5zM1030.27 356.73h3.5v3.5h-3.5zM1038.05 348.95h3.5v3.5h-3.5zM1045.83 341.17h3.5v3.5h-3.5zM1053.61 333.39h3.5v3.5h-3.5zM1061.38 325.62h3.5v3.5h-3.5zM1069.16 317.84h3.5v3.5h-3.5zM1076.94 310.06h3.5v3.5h-3.5zM1084.72 302.28h3.5v3.5h-3.5zM1092.50 294.50h3.5v3.5h-3.5zM1100.28 286.72h3.5v3.5h-3.5zM1108.05 278.95h3.5v3.5h-3.5zM1115.83 271.17h3.5v3.5h-3.5zM1123.61 263.39h3.5v3.5h-3.5zM1131.39 255.61h3.5v3.5h-3.5zM724.63 675.00h3.5v3.5h-3.5zM734.15 669.50h3.5v3.5h-3.5zM743.68 664.00h3.5v3.5h-3.5zM753.21 658.50h3.5v3.5h-3.5zM762.73 653.00h3.5v3.5h-3.5zM772.26 647.50h3.5v3.5h-3.5zM781.79 642.00h3.5v3.5h-3.5zM791.31 636.50h3.5v3.5h-3.5zM800.84 631.00h3.5v3.5h-3.5zM810.36 625.50h3.5v3.5h-3.5zM819.89 620.00h3.5v3.5h-3.5zM829.42 614.50h3.5v3.5h-3.5zM838.94 609.00h3.5v3.5h-3.5zM848.47 603.50h3.5v3.5h-3.5zM858.00 598.00h3.5v3.5h-3.5zM867.52 592.50h3.5v3.5h-3.5zM877.05 587.00h3.5v3.5h-3.5zM886.57 581.50h3.5v3.5h-3.5zM896.10 576.00h3.5v3.5h-3.5zM905.63 570.50h3.5v3.5h-3.5zM915.15 565.00h3.5v3.5h-3.5zM924.68 559.50h3.5v3.5h-3.5zM934.21 554.00h3.5v3.5h-3.5zM943.73 548.50h3.5v3.5h-3.5zM953.26 543.00h3.5v3.5h-3.5zM962.78 537.50h3.5v3.5h-3.5zM972.31 532.00h3.5v3.5h-3.5zM981.84 526.50h3.5v3.5h-3.5zM991.36 521.00h3.5v3.5h-3.5zM1000.89 515.50h3.5v3.5h-3.5zM1010.42 510.00h3.5v3.5h-3.5zM1019.94 504.50h3.5v3.5h-3.5zM1029.47 499.00h3.5v3.5h-3.5zM1039.00 493.50h3.5v3.5h-3.5zM1048.52 488.00h3.5v3.5h-3.5zM1058.05 482.50h3.5v3.5h-3.5zM1067.57 477.00h3.5v3.5h-3.5zM1077.10 471.50h3.5v3.5h-3.5zM1086.63 466.00h3.5v3.5h-3.5zM1096.15 460.50h3.5v3.5h-3.5zM1105.68 455.00h3.5v3.5h-3.5zM1115.21 449.50h3.5v3.5h-3.5zM1124.73 444.00h3.5v3.5h-3.5zM1134.26 438.50h3.5v3.5h-3.5zM1143.78 433.00h3.5v3.5h-3.5zM1153.31 427.50h3.5v3.5h-3.5zM1162.84 422.00h3.5v3.5h-3.5zM1172.36 416.50h3.5v3.5h-3.5zM1181.89 411.00h3.5v3.5h-3.5zM1191.42 405.50h3.5v3.5h-3.5zM1200.94 400.00h3.5v3.5h-3.5zM1210.47 394.50h3.5v3.5h-3.5zM1219.99 389.00h3.5v3.5h-3.5zM1229.52 383.50h3.5v3.5h-3.5zM728.07 683.32h3.5v3.5h-3.5zM738.70 680.47h3.5v3.5h-3.5zM749.32 677.63h3.5v3.5h-3.5zM759.95 674.78h3.5v3.5h-3.5zM770.58 671.93h3.5v3.5h-3.5zM781.20 669.09h3.5v3.5h-3.5zM791.83 666.24h3.5v3.5h-3.5zM802.45 663.39h3.5v3.5h-3.5zM813.08 660.54h3.5v3.5h-3.5zM823.70 657.70h3.5v3.5h-3.5zM834.33 654.85h3.5v3.5h-3.5zM844.95 652.00h3.5v3.5h-3.5zM855.58 649.16h3.5v3.5h-3.5zM866.20 646.31h3.5v3.5h-3.5zM876.83 643.46h3.5v3.5h-3.5zM887.45 640.62h3.5v3.5h-3.5zM898.08 637.77h3.5v3.5h-3.5zM908.70 634.92h3.5v3.5h-3.5zM919.33 632.07h3.5v3.5h-3.5zM929.95 629.23h3.5v3.5h-3.5zM940.58 626.38h3.5v3.5h-3.5zM951.20 623.53h3.5v3.5h-3.5zM961.83 620.69h3.5v3.5h-3.5zM972.45 617.84h3.5v3.5h-3.5zM983.08 614.99h3.5v3.5h-3.5zM993.70 612.15h3.5v3.5h-3.5zM1004.33 609.30h3.5v3.5h-3.5zM1014.95 606.45h3.5v3.5h-3.5zM1025.58 603.60h3.5v3.5h-3.5zM1036.20 600.76h3.5v3.5h-3.5zM1046.83 597.91h3.5v3.5h-3.5zM1057.46 595.06h3.5v3.5h-3.5zM1068.08 592.22h3.5v3.5h-3.5zM1078.71 589.37h3.5v3.5h-3.5zM1089.33 586.52h3.5v3.5h-3.5zM1099.96 583.68h3.5v3.5h-3.5zM1110.58 580.83h3.5v3.5h-3.5zM1121.21 577.98h3.5v3.5h-3.5zM1131.83 575.13h3.5v3.5h-3.5zM1142.46 572.29h3.5v3.5h-3.5zM1153.08 569.44h3.5v3.5h-3.5zM1163.71 566.59h3.5v3.5h-3.5zM1174.33 563.75h3.5v3.5h-3.5zM1184.96 560.90h3.5v3.5h-3.5zM1195.58 558.05h3.5v3.5h-3.5zM1206.21 555.21h3.5v3.5h-3.5zM1216.83 552.36h3.5v3.5h-3.5zM1227.46 549.51h3.5v3.5h-3.5zM1238.08 546.66h3.5v3.5h-3.5zM1248.71 543.82h3.5v3.5h-3.5zM1259.33 540.97h3.5v3.5h-3.5zM1269.96 538.12h3.5v3.5h-3.5zM1280.58 535.28h3.5v3.5h-3.5zM1291.21 532.43h3.5v3.5h-3.5zM729.25 692.25h3.5v3.5h-3.5zM740.25 692.25h3.5v3.5h-3.5zM751.25 692.25h3.5v3.5h-3.5zM762.25 692.25h3.5v3.5h-3.5zM773.25 692.25h3.5v3.5h-3.5zM784.25 692.25h3.5v3.5h-3.5zM795.25 692.25h3.5v3.5h-3.5zM806.25 692.25h3.5v3.5h-3.5zM817.25 692.25h3.5v3.5h-3.5zM828.25 692.25h3.5v3.5h-3.5zM839.25 692.25h3.5v3.5h-3.5zM850.25 692.25h3.5v3.5h-3.5zM861.25 692.25h3.5v3.5h-3.5zM872.25 692.25h3.5v3.5h-3.5zM883.25 692.25h3.5v3.5h-3.5zM894.25 692.25h3.5v3.5h-3.5zM905.25 692.25h3.5v3.5h-3.5zM916.25 692.25h3.5v3.5h-3.5zM927.25 692.25h3.5v3.5h-3.5zM938.25 692.25h3.5v3.5h-3.5zM949.25 692.25h3.5v3.5h-3.5zM960.25 692.25h3.5v3.5h-3.5zM971.25 692.25h3.5v3.5h-3.5zM982.25 692.25h3.5v3.5h-3.5zM993.25 692.25h3.5v3.5h-3.5zM1004.25 692.25h3.5v3.5h-3.5zM1015.25 692.25h3.5v3.5h-3.5zM1026.25 692.25h3.5v3.5h-3.5zM1037.25 692.25h3.5v3.5h-3.5zM1048.25 692.25h3.5v3.5h-3.5zM1059.25 692.25h3.5v3.5h-3.5zM1070.25 692.25h3.5v3.5h-3.5zM1081.25 692.25h3.5v3.5h-3.5zM1092.25 692.25h3.5v3.5h-3.5zM1103.25 692.25h3.5v3.5h-3.5zM1114.25 692.25h3.5v3.5h-3.5zM1125.25 692.25h3.5v3.5h-3.5zM1136.25 692.25h3.5v3.5h-3.5zM1147.25 692.25h3.5v3.5h-3.5zM1158.25 692.25h3.5v3.5h-3.5zM1169.25 692.25h3.5v3.5h-3.5zM1180.25 692.25h3.5v3.5h-3.5zM1191.25 692.25h3.5v3.5h-3.5zM1202.25 692.25h3.5v3.5h-3.5zM1213.25 692.25h3.5v3.5h-3.5zM1224.25 692.25h3.5v3.5h-3.5zM1235.25 692.25h3.5v3.5h-3.5zM1246.25 692.25h3.5v3.5h-3.5zM1257.25 692.25h3.5v3.5h-3.5zM1268.25 692.25h3.5v3.5h-3.5zM1279.25 692.25h3.5v3.5h-3.5zM1290.25 692.25h3.5v3.5h-3.5zM1301.25 692.25h3.5v3.5h-3.5zM1312.25 692.25h3.5v3.5h-3.5zM728.07 701.18h3.5v3.5h-3.5zM738.70 704.03h3.5v3.5h-3.5zM749.32 706.87h3.5v3.5h-3.5zM759.95 709.72h3.5v3.5h-3.5zM770.58 712.57h3.5v3.5h-3.5zM781.20 715.41h3.5v3.5h-3.5zM791.83 718.26h3.5v3.5h-3.5zM802.45 721.11h3.5v3.5h-3.5zM813.08 723.96h3.5v3.5h-3.5zM823.70 726.80h3.5v3.5h-3.5zM834.33 729.65h3.5v3.5h-3.5zM844.95 732.50h3.5v3.5h-3.5zM855.58 735.34h3.5v3.5h-3.5zM866.20 738.19h3.5v3.5h-3.5zM876.83 741.04h3.5v3.5h-3.5zM887.45 743.88h3.5v3.5h-3.5zM898.08 746.73h3.5v3.5h-3.5zM908.70 749.58h3.5v3.5h-3.5zM919.33 752.43h3.5v3.5h-3.5zM929.95 755.27h3.5v3.5h-3.5zM940.58 758.12h3.5v3.5h-3.5zM951.20 760.97h3.5v3.5h-3.5zM961.83 763.81h3.5v3.5h-3.5zM972.45 766.66h3.5v3.5h-3.5zM983.08 769.51h3.5v3.5h-3.5zM993.70 772.35h3.5v3.5h-3.5zM1004.33 775.20h3.5v3.5h-3.5zM1014.95 778.05h3.5v3.5h-3.5zM1025.58 780.90h3.5v3.5h-3.5zM1036.20 783.74h3.5v3.5h-3.5zM1046.83 786.59h3.5v3.5h-3.5zM1057.46 789.44h3.5v3.5h-3.5zM1068.08 792.28h3.5v3.5h-3.5zM1078.71 795.13h3.5v3.5h-3.5zM1089.33 797.98h3.5v3.5h-3.5zM1099.96 800.82h3.5v3.5h-3.5zM1110.58 803.67h3.5v3.5h-3.5zM1121.21 806.52h3.5v3.5h-3.5zM1131.83 809.37h3.5v3.5h-3.5zM1142.46 812.21h3.5v3.5h-3.5zM1153.08 815.06h3.5v3.5h-3.5zM1163.71 817.91h3.5v3.5h-3.5zM1174.33 820.75h3.5v3.5h-3.5zM1184.96 823.60h3.5v3.5h-3.5zM1195.58 826.45h3.5v3.5h-3.5zM1206.21 829.29h3.5v3.5h-3.5zM1216.83 832.14h3.5v3.5h-3.5zM1227.46 834.99h3.5v3.5h-3.5zM1238.08 837.84h3.5v3.5h-3.5zM1248.71 840.68h3.5v3.5h-3.5zM1259.33 843.53h3.5v3.5h-3.5zM1269.96 846.38h3.5v3.5h-3.5zM1280.58 849.22h3.5v3.5h-3.5zM1291.21 852.07h3.5v3.5h-3.5zM724.63 709.50h3.5v3.5h-3.5zM734.15 715.00h3.5v3.5h-3.5zM743.68 720.50h3.5v3.5h-3.5zM753.21 726.00h3.5v3.5h-3.5zM762.73 731.50h3.5v3.5h-3.5zM772.26 737.00h3.5v3.5h-3.5zM781.79 742.50h3.5v3.5h-3.5zM791.31 748.00h3.5v3.5h-3.5zM800.84 753.50h3.5v3.5h-3.5zM810.36 759.00h3.5v3.5h-3.5zM819.89 764.50h3.5v3.5h-3.5zM829.42 770.00h3.5v3.5h-3.5zM838.94 775.50h3.5v3.5h-3.5zM848.47 781.00h3.5v3.5h-3.5zM858.00 786.50h3.5v3.5h-3.5zM867.52 792.00h3.5v3.5h-3.5zM877.05 797.50h3.5v3.5h-3.5zM886.57 803.00h3.5v3.5h-3.5zM896.10 808.50h3.5v3.5h-3.5zM905.63 814.00h3.5v3.5h-3.5zM915.15 819.50h3.5v3.5h-3.5zM924.68 825.00h3.5v3.5h-3.5zM934.21 830.50h3.5v3.5h-3.5zM943.73 836.00h3.5v3.5h-3.5zM953.26 841.50h3.5v3.5h-3.5zM962.78 847.00h3.5v3.5h-3.5zM972.31 852.50h3.5v3.5h-3.5zM981.84 858.00h3.5v3.5h-3.5zM991.36 863.50h3.5v3.5h-3.5zM1000.89 869.00h3.5v3.5h-3.5zM1010.42 874.50h3.5v3.5h-3.5zM1019.94 880.00h3.5v3.5h-3.5zM1029.47 885.50h3.5v3.5h-3.5zM1039.00 891.00h3.5v3.5h-3.5zM1048.52 896.50h3.5v3.5h-3.5zM1058.05 902.00h3.5v3.5h-3.5zM1067.57 907.50h3.5v3.5h-3.5zM1077.10 913.00h3.5v3.5h-3.5zM1086.63 918.50h3.5v3.5h-3.5zM1096.15 924.00h3.5v3.5h-3.5zM1105.68 929.50h3.5v3.5h-3.5zM1115.21 935.00h3.5v3.5h-3.5zM1124.73 940.50h3.5v3.5h-3.5zM1134.26 946.00h3.5v3.5h-3.5zM1143.78 951.50h3.5v3.5h-3.5zM1153.31 957.00h3.5v3.5h-3.5zM1162.84 962.50h3.5v3.5h-3.5zM1172.36 968.00h3.5v3.5h-3.5zM1181.89 973.50h3.5v3.5h-3.5zM1191.42 979.00h3.5v3.5h-3.5zM1200.94 984.50h3.5v3.5h-3.5zM1210.47 990.00h3.5v3.5h-3.5zM1219.99 995.50h3.5v3.5h-3.5zM1229.52 1001.00h3.5v3.5h-3.5zM719.15 716.65h3.5v3.5h-3.5zM726.92 724.42h3.5v3.5h-3.5zM734.70 732.20h3.5v3.5h-3.5zM742.48 739.98h3.5v3.5h-3.5zM750.26 747.76h3.5v3.5h-3.5zM758.04 755.54h3.5v3.5h-3.5zM765.81 763.31h3.5v3.5h-3.5zM773.59 771.09h3.5v3.5h-3.5zM781.37 778.87h3.5v3.5h-3.5zM789.15 786.65h3.5v3.5h-3.5zM796.93 794.43h3.5v3.5h-3.5zM804.71 802.21h3.5v3.5h-3.5zM812.48 809.98h3.5v3.5h-3.5zM820.26 817.76h3.5v3.5h-3.5zM828.04 825.54h3.5v3.5h-3.5zM835.82 833.32h3.5v3.5h-3.5zM843.60 841.10h3.5v3.5h-3.5zM851.37 848.87h3.5v3.5h-3.5zM859.15 856.65h3.5v3.5h-3.5zM866.93 864.43h3.5v3.5h-3.5zM874.71 872.21h3.5v3.5h-3.5zM882.49 879.99h3.5v3.5h-3.5zM890.27 887.77h3.5v3.5h-3.5zM898.04 895.54h3.5v3.5h-3.5zM905.82 903.32h3.5v3.5h-3.5zM913.60 911.10h3.5v3.5h-3.5zM921.38 918.88h3.5v3.5h-3.5zM929.16 926.66h3.5v3.5h-3.5zM936.93 934.43h3.5v3.5h-3.5zM944.71 942.21h3.5v3.5h-3.5zM952.49 949.99h3.5v3.5h-3.5zM960.27 957.77h3.5v3.5h-3.5zM968.05 965.55h3.5v3.5h-3.5zM975.82 973.32h3.5v3.5h-3.5zM983.60 981.10h3.5v3.5h-3.5zM991.38 988.88h3.5v3.5h-3.5zM999.16 996.66h3.5v3.5h-3.5zM1006.94 1004.44h3.5v3.5h-3.5zM1014.72 1012.22h3.5v3.5h-3.5zM1022.49 1019.99h3.5v3.5h-3.5zM1030.27 1027.77h3.5v3.5h-3.5zM1038.05 1035.55h3.5v3.5h-3.5zM1045.83 1043.33h3.5v3.5h-3.5zM1053.61 1051.11h3.5v3.5h-3.5zM1061.38 1058.88h3.5v3.5h-3.5zM1069.16 1066.66h3.5v3.5h-3.5zM1076.94 1074.44h3.5v3.5h-3.5zM1084.72 1082.22h3.5v3.5h-3.5zM1092.50 1090.00h3.5v3.5h-3.5zM1100.28 1097.78h3.5v3.5h-3.5zM1108.05 1105.55h3.5v3.5h-3.5zM1115.83 1113.33h3.5v3.5h-3.5zM1123.61 1121.11h3.5v3.5h-3.5zM1131.39 1128.89h3.5v3.5h-3.5zM712.00 722.13h3.5v3.5h-3.5zM717.50 731.65h3.5v3.5h-3.5zM723.00 741.18h3.5v3.5h-3.5zM728.50 750.71h3.5v3.5h-3.5zM734.00 760.23h3.5v3.5h-3.5zM739.50 769.76h3.5v3.5h-3.5zM745.00 779.29h3.5v3.5h-3.5zM750.50 788.81h3.5v3.5h-3.5zM756.00 798.34h3.5v3.5h-3.5zM761.50 807.86h3.5v3.5h-3.5zM767.00 817.39h3.5v3.5h-3.5zM772.50 826.92h3.5v3.5h-3.5zM778.00 836.44h3.5v3.5h-3.5zM783.50 845.97h3.5v3.5h-3.5zM789.00 855.50h3.5v3.5h-3.5zM794.50 865.02h3.5v3.5h-3.5zM800.00 874.55h3.5v3.5h-3.5zM805.50 884.07h3.5v3.5h-3.5zM811.00 893.60h3.5v3.5h-3.5zM816.50 903.13h3.5v3.5h-3.5zM822.00 912.65h3.5v3.5h-3.5zM827.50 922.18h3.5v3.5h-3.5zM833.00 931.71h3.5v3.5h-3.5zM838.50 941.23h3.5v3.5h-3.5zM844.00 950.76h3.5v3.5h-3.5zM849.50 960.28h3.5v3.5h-3.5zM855.00 969.81h3.5v3.5h-3.5zM860.50 979.34h3.5v3.5h-3.5zM866.00 988.86h3.5v3.5h-3.5zM871.50 998.39h3.5v3.5h-3.5zM877.00 1007.92h3.5v3.5h-3.5zM882.50 1017.44h3.5v3.5h-3.5zM888.00 1026.97h3.5v3.5h-3.5zM893.50 1036.50h3.5v3.5h-3.5zM899.00 1046.02h3.5v3.5h-3.5zM904.50 1055.55h3.5v3.5h-3.5zM910.00 1065.07h3.5v3.5h-3.5zM915.50 1074.60h3.5v3.5h-3.5zM921.00 1084.13h3.5v3.5h-3.5zM926.50 1093.65h3.5v3.5h-3.5zM932.00 1103.18h3.5v3.5h-3.5zM937.50 1112.71h3.5v3.5h-3.5zM943.00 1122.23h3.5v3.5h-3.5zM948.50 1131.76h3.5v3.5h-3.5zM954.00 1141.28h3.5v3.5h-3.5zM959.50 1150.81h3.5v3.5h-3.5zM965.00 1160.34h3.5v3.5h-3.5zM970.50 1169.86h3.5v3.5h-3.5zM976.00 1179.39h3.5v3.5h-3.5zM981.50 1188.92h3.5v3.5h-3.5zM987.00 1198.44h3.5v3.5h-3.5zM992.50 1207.97h3.5v3.5h-3.5zM998.00 1217.49h3.5v3.5h-3.5zM1003.50 1227.02h3.5v3.5h-3.5zM703.68 725.57h3.5v3.5h-3.5zM706.53 736.20h3.5v3.5h-3.5zM709.37 746.82h3.5v3.5h-3.5zM712.22 757.45h3.5v3.5h-3.5zM715.07 768.08h3.5v3.5h-3.5zM717.91 778.70h3.5v3.5h-3.5zM720.76 789.33h3.5v3.5h-3.5zM723.61 799.95h3.5v3.5h-3.5zM726.46 810.58h3.5v3.5h-3.5zM729.30 821.20h3.5v3.5h-3.5zM732.15 831.83h3.5v3.5h-3.5zM735.00 842.45h3.5v3.5h-3.5zM737.84 853.08h3.5v3.5h-3.5zM740.69 863.70h3.5v3.5h-3.5zM743.54 874.33h3.5v3.5h-3.5zM746.38 884.95h3.5v3.5h-3.5zM749.23 895.58h3.5v3.5h-3.5zM752.08 906.20h3.5v3.5h-3.5zM754.93 916.83h3.5v3.5h-3.5zM757.77 927.45h3.5v3.5h-3.5zM760.62 938.08h3.5v3.5h-3.5zM763.47 948.70h3.5v3.5h-3.5zM766.31 959.33h3.5v3.5h-3.5zM769.16 969.95h3.5v3.5h-3.5zM772.01 980.58h3.5v3.5h-3.5zM774.85 991.20h3.5v3.5h-3.5zM777.70 1001.83h3.5v3.5h-3.5zM780.55 1012.45h3.5v3.5h-3.5zM783.40 1023.08h3.5v3.5h-3.5zM786.24 1033.70h3.5v3.5h-3.5zM789.09 1044.33h3.5v3.5h-3.5zM791.94 1054.96h3.5v3.5h-3.5zM794.78 1065.58h3.5v3.5h-3.5zM797.63 1076.21h3.5v3.5h-3.5zM800.48 1086.83h3.5v3.5h-3.5zM803.32 1097.46h3.5v3.5h-3.5zM806.17 1108.08h3.5v3.5h-3.5zM809.02 1118.71h3.5v3.5h-3.5zM811.87 1129.33h3.5v3.5h-3.5zM814.71 1139.96h3.5v3.5h-3.5zM817.56 1150.58h3.5v3.5h-3.5zM820.41 1161.21h3.5v3.5h-3.5zM823.25 1171.83h3.5v3.5h-3.5zM826.10 1182.46h3.5v3.5h-3.5zM828.95 1193.08h3.5v3.5h-3.5zM831.79 1203.71h3.5v3.5h-3.5zM834.64 1214.33h3.5v3.5h-3.5zM837.49 1224.96h3.5v3.5h-3.5zM840.34 1235.58h3.5v3.5h-3.5zM843.18 1246.21h3.5v3.5h-3.5zM846.03 1256.83h3.5v3.5h-3.5zM848.88 1267.46h3.5v3.5h-3.5zM851.72 1278.08h3.5v3.5h-3.5zM854.57 1288.71h3.5v3.5h-3.5zM694.75 726.75h3.5v3.5h-3.5zM694.75 737.75h3.5v3.5h-3.5zM694.75 748.75h3.5v3.5h-3.5zM694.75 759.75h3.5v3.5h-3.5zM694.75 770.75h3.5v3.5h-3.5zM694.75 781.75h3.5v3.5h-3.5zM694.75 792.75h3.5v3.5h-3.5zM694.75 803.75h3.5v3.5h-3.5zM694.75 814.75h3.5v3.5h-3.5zM694.75 825.75h3.5v3.5h-3.5zM694.75 836.75h3.5v3.5h-3.5zM694.75 847.75h3.5v3.5h-3.5zM694.75 858.75h3.5v3.5h-3.5zM694.75 869.75h3.5v3.5h-3.5zM694.75 880.75h3.5v3.5h-3.5zM694.75 891.75h3.5v3.5h-3.5zM694.75 902.75h3.5v3.5h-3.5zM694.75 913.75h3.5v3.5h-3.5zM694.75 924.75h3.5v3.5h-3.5zM694.75 935.75h3.5v3.5h-3.5zM694.75 946.75h3.5v3.5h-3.5zM694.75 957.75h3.5v3.5h-3.5zM694.75 968.75h3.5v3.5h-3.5zM694.75 979.75h3.5v3.5h-3.5zM694.75 990.75h3.5v3.5h-3.5zM694.75 1001.75h3.5v3.5h-3.5zM694.75 1012.75h3.5v3.5h-3.5zM694.75 1023.75h3.5v3.5h-3.5zM694.75 1034.75h3.5v3.5h-3.5zM694.75 1045.75h3.5v3.5h-3.5zM694.75 1056.75h3.5v3.5h-3.5zM694.75 1067.75h3.5v3.5h-3.5zM694.75 1078.75h3.5v3.5h-3.5zM694.75 1089.75h3.5v3.5h-3.5zM694.75 1100.75h3.5v3.5h-3.5zM694.75 1111.75h3.5v3.5h-3.5zM694.75 1122.75h3.5v3.5h-3.5zM694.75 1133.75h3.5v3.5h-3.5zM694.75 1144.75h3.5v3.5h-3.5zM694.75 1155.75h3.5v3.5h-3.5zM694.75 1166.75h3.5v3.5h-3.5zM694.75 1177.75h3.5v3.5h-3.5zM694.75 1188.75h3.5v3.5h-3.5zM694.75 1199.75h3.5v3.5h-3.5zM694.75 1210.75h3.5v3.5h-3.5zM694.75 1221.75h3.5v3.5h-3.5zM694.75 1232.75h3.5v3.5h-3.5zM694.75 1243.75h3.5v3.5h-3.5zM694.75 1254.75h3.5v3.5h-3.5zM694.75 1265.75h3.5v3.5h-3.5zM694.75 1276.75h3.5v3.5h-3.5zM694.75 1287.75h3.5v3.5h-3.5zM694.75 1298.75h3.5v3.5h-3.5zM685.82 725.57h3.5v3.5h-3.5zM682.97 736.20h3.5v3.5h-3.5zM680.13 746.82h3.5v3.5h-3.5zM677.28 757.45h3.5v3.5h-3.5zM674.43 768.08h3.5v3.5h-3.5zM671.59 778.70h3.5v3.5h-3.5zM668.74 789.33h3.5v3.5h-3.5zM665.89 799.95h3.5v3.5h-3.5zM663.04 810.58h3.5v3.5h-3.5zM660.20 821.20h3.5v3.5h-3.5zM657.35 831.83h3.5v3.5h-3.5zM654.50 842.45h3.5v3.5h-3.5zM651.66 853.08h3.5v3.5h-3.5zM648.81 863.70h3.5v3.5h-3.5zM645.96 874.33h3.5v3.5h-3.5zM643.12 884.95h3.5v3.5h-3.5zM640.27 895.58h3.5v3.5h-3.5zM637.42 906.20h3.5v3.5h-3.5zM634.57 916.83h3.5v3.5h-3.5zM631.73 927.45h3.5v3.5h-3.5zM628.88 938.08h3.5v3.5h-3.5zM626.03 948.70h3.5v3.5h-3.5zM623.19 959.33h3.5v3.5h-3.5zM620.34 969.95h3.5v3.5h-3.5zM617.49 980.58h3.5v3.5h-3.5zM614.65 991.20h3.5v3.5h-3.5zM611.80 1001.83h3.5v3.5h-3.5zM608.95 1012.45h3.5v3.5h-3.5zM606.10 1023.08h3.5v3.5h-3.5zM603.26 1033.70h3.5v3.5h-3.5zM600.41 1044.33h3.5v3.5h-3.5zM597.56 1054.96h3.5v3.5h-3.5zM594.72 1065.58h3.5v3.5h-3.5zM591.87 1076.21h3.5v3.5h-3.5zM589.02 1086.83h3.5v3.5h-3.5zM586.18 1097.46h3.5v3.5h-3.5zM583.33 1108.08h3.5v3.5h-3.5zM580.48 1118.71h3.5v3.5h-3.5zM577.63 1129.33h3.5v3.5h-3.5zM574.79 1139.96h3.5v3.5h-3.5zM571.94 1150.58h3.5v3.5h-3.5zM569.09 1161.21h3.5v3.5h-3.5zM566.25 1171.83h3.5v3.5h-3.5zM563.40 1182.46h3.5v3.5h-3.5zM560.55 1193.08h3.5v3.5h-3.5zM557.71 1203.71h3.5v3.5h-3.5zM554.86 1214.33h3.5v3.5h-3.5zM552.01 1224.96h3.5v3.5h-3.5zM549.16 1235.58h3.5v3.5h-3.5zM546.32 1246.21h3.5v3.5h-3.5zM543.47 1256.83h3.5v3.5h-3.5zM540.62 1267.46h3.5v3.5h-3.5zM537.78 1278.08h3.5v3.5h-3.5zM534.93 1288.71h3.5v3.5h-3.5zM677.50 722.13h3.5v3.5h-3.5zM672.00 731.65h3.5v3.5h-3.5zM666.50 741.18h3.5v3.5h-3.5zM661.00 750.71h3.5v3.5h-3.5zM655.50 760.23h3.5v3.5h-3.5zM650.00 769.76h3.5v3.5h-3.5zM644.50 779.29h3.5v3.5h-3.5zM639.00 788.81h3.5v3.5h-3.5zM633.50 798.34h3.5v3.5h-3.5zM628.00 807.86h3.5v3.5h-3.5zM622.50 817.39h3.5v3.5h-3.5zM617.00 826.92h3.5v3.5h-3.5zM611.50 836.44h3.5v3.5h-3.5zM606.00 845.97h3.5v3.5h-3.5zM600.50 855.50h3.5v3.5h-3.5zM595.00 865.02h3.5v3.5h-3.5zM589.50 874.55h3.5v3.5h-3.5zM584.00 884.07h3.5v3.5h-3.5zM578.50 893.60h3.5v3.5h-3.5zM573.00 903.13h3.5v3.5h-3.5zM567.50 912.65h3.5v3.5h-3.5zM562.00 922.18h3.5v3.5h-3.5zM556.50 931.71h3.5v3.5h-3.5zM551.00 941.23h3.5v3.5h-3.5zM545.50 950.76h3.5v3.5h-3.5zM540.00 960.28h3.5v3.5h-3.5zM534.50 969.81h3.5v3.5h-3.5zM529.00 979.34h3.5v3.5h-3.5zM523.50 988.86h3.5v3.5h-3.5zM518.00 998.39h3.5v3.5h-3.5zM512.50 1007.92h3.5v3.5h-3.5zM507.00 1017.44h3.5v3.5h-3.5zM501.50 1026.97h3.5v3.5h-3.5zM496.00 1036.50h3.5v3.5h-3.5zM490.50 1046.02h3.5v3.5h-3.5zM485.00 1055.55h3.5v3.5h-3.5zM479.50 1065.07h3.5v3.5h-3.5zM474.00 1074.60h3.5v3.5h-3.5zM468.50 1084.13h3.5v3.5h-3.5zM463.00 1093.65h3.5v3.5h-3.5zM457.50 1103.18h3.5v3.5h-3.5zM452.00 1112.71h3.5v3.5h-3.5zM446.50 1122.23h3.5v3.5h-3.5zM441.00 1131.76h3.5v3.5h-3.5zM435.50 1141.28h3.5v3.5h-3.5zM430.00 1150.81h3.5v3.5h-3.5zM424.50 1160.34h3.5v3.5h-3.5zM419.00 1169.86h3.5v3.5h-3.5zM413.50 1179.39h3.5v3.5h-3.5zM408.00 1188.92h3.5v3.5h-3.5zM402.50 1198.44h3.5v3.5h-3.5zM397.00 1207.97h3.5v3.5h-3.5zM391.50 1217.49h3.5v3.5h-3.5zM386.00 1227.02h3.5v3.5h-3.5zM670.35 716.65h3.5v3.5h-3.5zM662.58 724.42h3.5v3.5h-3.5zM654.80 732.20h3.5v3.5h-3.5zM647.02 739.98h3.5v3.5h-3.5zM639.24 747.76h3.5v3.5h-3.5zM631.46 755.54h3.5v3.5h-3.5zM623.69 763.31h3.5v3.5h-3.5zM615.91 771.09h3.5v3.5h-3.5zM608.13 778.87h3.5v3.5h-3.5zM600.35 786.65h3.5v3.5h-3.5zM592.57 794.43h3.5v3.5h-3.5zM584.79 802.21h3.5v3.5h-3.5zM577.02 809.98h3.5v3.5h-3.5zM569.24 817.76h3.5v3.5h-3.5zM561.46 825.54h3.5v3.5h-3.5zM553.68 833.32h3.5v3.5h-3.5zM545.90 841.10h3.5v3.5h-3.5zM538.13 848.87h3.5v3.5h-3.5zM530.35 856.65h3.5v3.5h-3.5zM522.57 864.43h3.5v3.5h-3.5zM514.79 872.21h3.5v3.5h-3.5zM507.01 879.99h3.5v3.5h-3.5zM499.23 887.77h3.5v3.5h-3.5zM491.46 895.54h3.5v3.5h-3.5zM483.68 903.32h3.5v3.5h-3.5zM475.90 911.10h3.5v3.5h-3.5zM468.12 918.88h3.5v3.5h-3.5zM460.34 926.66h3.5v3.5h-3.5zM452.57 934.43h3.5v3.5h-3.5zM444.79 942.21h3.5v3.5h-3.5zM437.01 949.99h3.5v3.5h-3.5zM429.23 957.77h3.5v3.5h-3.5zM421.45 965.55h3.5v3.5h-3.5zM413.68 973.32h3.5v3.5h-3.5zM405.90 981.10h3.5v3.5h-3.5zM398.12 988.88h3.5v3.5h-3.5zM390.34 996.66h3.5v3.5h-3.5zM382.56 1004.44h3.5v3.5h-3.5zM374.78 1012.22h3.5v3.5h-3.5zM367.01 1019.99h3.5v3.5h-3.5zM359.23 1027.77h3.5v3.5h-3.5zM351.45 1035.55h3.5v3.5h-3.5zM343.67 1043.33h3.5v3.5h-3.5zM335.89 1051.11h3.5v3.5h-3.5zM328.12 1058.88h3.5v3.5h-3.5zM320.34 1066.66h3.5v3.5h-3.5zM312.56 1074.44h3.5v3.5h-3.5zM304.78 1082.22h3.5v3.5h-3.5zM297.00 1090.00h3.5v3.5h-3.5zM289.22 1097.78h3.5v3.5h-3.5zM281.45 1105.55h3.5v3.5h-3.5zM273.67 1113.33h3.5v3.5h-3.5zM265.89 1121.11h3.5v3.5h-3.5zM258.11 1128.89h3.5v3.5h-3.5zM664.87 709.50h3.5v3.5h-3.5zM655.35 715.00h3.5v3.5h-3.5zM645.82 720.50h3.5v3.5h-3.5zM636.29 726.00h3.5v3.5h-3.5zM626.77 731.50h3.5v3.5h-3.5zM617.24 737.00h3.5v3.5h-3.5zM607.71 742.50h3.5v3.5h-3.5zM598.19 748.00h3.5v3.5h-3.5zM588.66 753.50h3.5v3.5h-3.5zM579.14 759.00h3.5v3.5h-3.5zM569.61 764.50h3.5v3.5h-3.5zM560.08 770.00h3.5v3.5h-3.5zM550.56 775.50h3.5v3.5h-3.5zM541.03 781.00h3.5v3.5h-3.5zM531.50 786.50h3.5v3.5h-3.5zM521.98 792.00h3.5v3.5h-3.5zM512.45 797.50h3.5v3.5h-3.5zM502.93 803.00h3.5v3.5h-3.5zM493.40 808.50h3.5v3.5h-3.5zM483.87 814.00h3.5v3.5h-3.5zM474.35 819.50h3.5v3.5h-3.5zM464.82 825.00h3.5v3.5h-3.5zM455.29 830.50h3.5v3.5h-3.5zM445.77 836.00h3.5v3.5h-3.5zM436.24 841.50h3.5v3.5h-3.5zM426.72 847.00h3.5v3.5h-3.5zM417.19 852.50h3.5v3.5h-3.5zM407.66 858.00h3.5v3.5h-3.5zM398.14 863.50h3.5v3.5h-3.5zM388.61 869.00h3.5v3.5h-3.5zM379.08 874.50h3.5v3.5h-3.5zM369.56 880.00h3.5v3.5h-3.5zM360.03 885.50h3.5v3.5h-3.5zM350.50 891.00h3.5v3.5h-3.5zM340.98 896.50h3.5v3.5h-3.5zM331.45 902.00h3.5v3.5h-3.5zM321.93 907.50h3.5v3.5h-3.5zM312.40 913.00h3.5v3.5h-3.5zM302.87 918.50h3.5v3.5h-3.5zM293.35 924.00h3.5v3.5h-3.5zM283.82 929.50h3.5v3.5h-3.5zM274.29 935.00h3.5v3.5h-3.5zM264.77 940.50h3.5v3.5h-3.5zM255.24 946.00h3.5v3.5h-3.5zM245.72 951.50h3.5v3.5h-3.5zM236.19 957.00h3.5v3.5h-3.5zM226.66 962.50h3.5v3.5h-3.5zM217.14 968.00h3.5v3.5h-3.5zM207.61 973.50h3.5v3.5h-3.5zM198.08 979.00h3.5v3.5h-3.5zM188.56 984.50h3.5v3.5h-3.5zM179.03 990.00h3.5v3.5h-3.5zM169.51 995.50h3.5v3.5h-3.5zM159.98 1001.00h3.5v3.5h-3.5zM661.43 701.18h3.5v3.5h-3.5zM650.80 704.03h3.5v3.5h-3.5zM640.18 706.87h3.5v3.5h-3.5zM629.55 709.72h3.5v3.5h-3.5zM618.92 712.57h3.5v3.5h-3.5zM608.30 715.41h3.5v3.5h-3.5zM597.67 718.26h3.5v3.5h-3.5zM587.05 721.11h3.5v3.5h-3.5zM576.42 723.96h3.5v3.5h-3.5zM565.80 726.80h3.5v3.5h-3.5zM555.17 729.65h3.5v3.5h-3.5zM544.55 732.50h3.5v3.5h-3.5zM533.92 735.34h3.5v3.5h-3.5zM523.30 738.19h3.5v3.5h-3.5zM512.67 741.04h3.5v3.5h-3.5zM502.05 743.88h3.5v3.5h-3.5zM491.42 746.73h3.5v3.5h-3.5zM480.80 749.58h3.5v3.5h-3.5zM470.17 752.43h3.5v3.5h-3.5zM459.55 755.27h3.5v3.5h-3.5zM448.92 758.12h3.5v3.5h-3.5zM438.30 760.97h3.5v3.5h-3.5zM427.67 763.81h3.5v3.5h-3.5zM417.05 766.66h3.5v3.5h-3.5zM406.42 769.51h3.5v3.5h-3.5zM395.80 772.35h3.5v3.5h-3.5zM385.17 775.20h3.5v3.5h-3.5zM374.55 778.05h3.5v3.5h-3.5zM363.92 780.90h3.5v3.5h-3.5zM353.30 783.74h3.5v3.5h-3.5zM342.67 786.59h3.5v3.5h-3.5zM332.04 789.44h3.5v3.5h-3.5zM321.42 792.28h3.5v3.5h-3.5zM310.79 795.13h3.5v3.5h-3.5zM300.17 797.98h3.5v3.5h-3.5zM289.54 800.82h3.5v3.5h-3.5zM278.92 803.67h3.5v3.5h-3.5zM268.29 806.52h3.5v3.5h-3.5zM257.67 809.37h3.5v3.5h-3.5zM247.04 812.21h3.5v3.5h-3.5zM236.42 815.06h3.5v3.5h-3.5zM225.79 817.91h3.5v3.5h-3.5zM215.17 820.75h3.5v3.5h-3.5zM204.54 823.60h3.5v3.5h-3.5zM193.92 826.45h3.5v3.5h-3.5zM183.29 829.29h3.5v3.5h-3.5zM172.67 832.14h3.5v3.5h-3.5zM162.04 834.99h3.5v3.5h-3.5zM151.42 837.84h3.5v3.5h-3.5zM140.79 840.68h3.5v3.5h-3.5zM130.17 843.53h3.5v3.5h-3.5zM119.54 846.38h3.5v3.5h-3.5zM108.92 849.22h3.5v3.5h-3.5zM98.29 852.07h3.5v3.5h-3.5zM660.25 692.25h3.5v3.5h-3.5zM649.25 692.25h3.5v3.5h-3.5zM638.25 692.25h3.5v3.5h-3.5zM627.25 692.25h3.5v3.5h-3.5zM616.25 692.25h3.5v3.5h-3.5zM605.25 692.25h3.5v3.5h-3.5zM594.25 692.25h3.5v3.5h-3.5zM583.25 692.25h3.5v3.5h-3.5zM572.25 692.25h3.5v3.5h-3.5zM561.25 692.25h3.5v3.5h-3.5zM550.25 692.25h3.5v3.5h-3.5zM539.25 692.25h3.5v3.5h-3.5zM528.25 692.25h3.5v3.5h-3.5zM517.25 692.25h3.5v3.5h-3.5zM506.25 692.25h3.5v3.5h-3.5zM495.25 692.25h3.5v3.5h-3.5zM484.25 692.25h3.5v3.5h-3.5zM473.25 692.25h3.5v3.5h-3.5zM462.25 692.25h3.5v3.5h-3.5zM451.25 692.25h3.5v3.5h-3.5zM440.25 692.25h3.5v3.5h-3.5zM429.25 692.25h3.5v3.5h-3.5zM418.25 692.25h3.5v3.5h-3.5zM407.25 692.25h3.5v3.5h-3.5zM396.25 692.25h3.5v3.5h-3.5zM385.25 692.25h3.5v3.5h-3.5zM374.25 692.25h3.5v3.5h-3.5zM363.25 692.25h3.5v3.5h-3.5zM352.25 692.25h3.5v3.5h-3.5zM341.25 692.25h3.5v3.5h-3.5zM330.25 692.25h3.5v3.5h-3.5zM319.25 692.25h3.5v3.5h-3.5zM308.25 692.25h3.5v3.5h-3.5zM297.25 692.25h3.5v3.5h-3.5zM286.25 692.25h3.5v3.5h-3.5zM275.25 692.25h3.5v3.5h-3.5zM264.25 692.25h3.5v3.5h-3.5zM253.25 692.25h3.5v3.5h-3.5zM242.25 692.25h3.5v3.5h-3.5zM231.25 692.25h3.5v3.5h-3.5zM220.25 692.25h3.5v3.5h-3.5zM209.25 692.25h3.5v3.5h-3.5zM198.25 692.25h3.5v3.5h-3.5zM187.25 692.25h3.5v3.5h-3.5zM176.25 692.25h3.5v3.5h-3.5zM165.25 692.25h3.5v3.5h-3.5zM154.25 692.25h3.5v3.5h-3.5zM143.25 692.25h3.5v3.5h-3.5zM132.25 692.25h3.5v3.5h-3.5zM121.25 692.25h3.5v3.5h-3.5zM110.25 692.25h3.5v3.5h-3.5zM99.25 692.25h3.5v3.5h-3.5zM88.25 692.25h3.5v3.5h-3.5zM661.43 683.32h3.5v3.5h-3.5zM650.80 680.47h3.5v3.5h-3.5zM640.18 677.63h3.5v3.5h-3.5zM629.55 674.78h3.5v3.5h-3.5zM618.92 671.93h3.5v3.5h-3.5zM608.30 669.09h3.5v3.5h-3.5zM597.67 666.24h3.5v3.5h-3.5zM587.05 663.39h3.5v3.5h-3.5zM576.42 660.54h3.5v3.5h-3.5zM565.80 657.70h3.5v3.5h-3.5zM555.17 654.85h3.5v3.5h-3.5zM544.55 652.00h3.5v3.5h-3.5zM533.92 649.16h3.5v3.5h-3.5zM523.30 646.31h3.5v3.5h-3.5zM512.67 643.46h3.5v3.5h-3.5zM502.05 640.62h3.5v3.5h-3.5zM491.42 637.77h3.5v3.5h-3.5zM480.80 634.92h3.5v3.5h-3.5zM470.17 632.07h3.5v3.5h-3.5zM459.55 629.23h3.5v3.5h-3.5zM448.92 626.38h3.5v3.5h-3.5zM438.30 623.53h3.5v3.5h-3.5zM427.67 620.69h3.5v3.5h-3.5zM417.05 617.84h3.5v3.5h-3.5zM406.42 614.99h3.5v3.5h-3.5zM395.80 612.15h3.5v3.5h-3.5zM385.17 609.30h3.5v3.5h-3.5zM374.55 606.45h3.5v3.5h-3.5zM363.92 603.60h3.5v3.5h-3.5zM353.30 600.76h3.5v3.5h-3.5zM342.67 597.91h3.5v3.5h-3.5zM332.04 595.06h3.5v3.5h-3.5zM321.42 592.22h3.5v3.5h-3.5zM310.79 589.37h3.5v3.5h-3.5zM300.17 586.52h3.5v3.5h-3.5zM289.54 583.68h3.5v3.5h-3.5zM278.92 580.83h3.5v3.5h-3.5zM268.29 577.98h3.5v3.5h-3.5zM257.67 575.13h3.5v3.5h-3.5zM247.04 572.29h3.5v3.5h-3.5zM236.42 569.44h3.5v3.5h-3.5zM225.79 566.59h3.5v3.5h-3.5zM215.17 563.75h3.5v3.5h-3.5zM204.54 560.90h3.5v3.5h-3.5zM193.92 558.05h3.5v3.5h-3.5zM183.29 555.21h3.5v3.5h-3.5zM172.67 552.36h3.5v3.5h-3.5zM162.04 549.51h3.5v3.5h-3.5zM151.42 546.66h3.5v3.5h-3.5zM140.79 543.82h3.5v3.5h-3.5zM130.17 540.97h3.5v3.5h-3.5zM119.54 538.12h3.5v3.5h-3.5zM108.92 535.28h3.5v3.5h-3.5zM98.29 532.43h3.5v3.5h-3.5zM664.87 675.00h3.5v3.5h-3.5zM655.35 669.50h3.5v3.5h-3.5zM645.82 664.00h3.5v3.5h-3.5zM636.29 658.50h3.5v3.5h-3.5zM626.77 653.00h3.5v3.5h-3.5zM617.24 647.50h3.5v3.5h-3.5zM607.71 642.00h3.5v3.5h-3.5zM598.19 636.50h3.5v3.5h-3.5zM588.66 631.00h3.5v3.5h-3.5zM579.14 625.50h3.5v3.5h-3.5zM569.61 620.00h3.5v3.5h-3.5zM560.08 614.50h3.5v3.5h-3.5zM550.56 609.00h3.5v3.5h-3.5zM541.03 603.50h3.5v3.5h-3.5zM531.50 598.00h3.5v3.5h-3.5zM521.98 592.50h3.5v3.5h-3.5zM512.45 587.00h3.5v3.5h-3.5zM502.93 581.50h3.5v3.5h-3.5zM493.40 576.00h3.5v3.5h-3.5zM483.87 570.50h3.5v3.5h-3.5zM474.35 565.00h3.5v3.5h-3.5zM464.82 559.50h3.5v3.5h-3.5zM455.29 554.00h3.5v3.5h-3.5zM445.77 548.50h3.5v3.5h-3.5zM436.24 543.00h3.5v3.5h-3.5zM426.72 537.50h3.5v3.5h-3.5zM417.19 532.00h3.5v3.5h-3.5zM407.66 526.50h3.5v3.5h-3.5zM398.14 521.00h3.5v3.5h-3.5zM388.61 515.50h3.5v3.5h-3.5zM379.08 510.00h3.5v3.5h-3.5zM369.56 504.50h3.5v3.5h-3.5zM360.03 499.00h3.5v3.5h-3.5zM350.50 493.50h3.5v3.5h-3.5zM340.98 488.00h3.5v3.5h-3.5zM331.45 482.50h3.5v3.5h-3.5zM321.93 477.00h3.5v3.5h-3.5zM312.40 471.50h3.5v3.5h-3.5zM302.87 466.00h3.5v3.5h-3.5zM293.35 460.50h3.5v3.5h-3.5zM283.82 455.00h3.5v3.5h-3.5zM274.29 449.50h3.5v3.5h-3.5zM264.77 444.00h3.5v3.5h-3.5zM255.24 438.50h3.5v3.5h-3.5zM245.72 433.00h3.5v3.5h-3.5zM236.19 427.50h3.5v3.5h-3.5zM226.66 422.00h3.5v3.5h-3.5zM217.14 416.50h3.5v3.5h-3.5zM207.61 411.00h3.5v3.5h-3.5zM198.08 405.50h3.5v3.5h-3.5zM188.56 400.00h3.5v3.5h-3.5zM179.03 394.50h3.5v3.5h-3.5zM169.51 389.00h3.5v3.5h-3.5zM159.98 383.50h3.5v3.5h-3.5zM670.35 667.85h3.5v3.5h-3.5zM662.58 660.08h3.5v3.5h-3.5zM654.80 652.30h3.5v3.5h-3.5zM647.02 644.52h3.5v3.5h-3.5zM639.24 636.74h3.5v3.5h-3.5zM631.46 628.96h3.5v3.5h-3.5zM623.69 621.19h3.5v3.5h-3.5zM615.91 613.41h3.5v3.5h-3.5zM608.13 605.63h3.5v3.5h-3.5zM600.35 597.85h3.5v3.5h-3.5zM592.57 590.07h3.5v3.5h-3.5zM584.79 582.29h3.5v3.5h-3.5zM577.02 574.52h3.5v3.5h-3.5zM569.24 566.74h3.5v3.5h-3.5zM561.46 558.96h3.5v3.5h-3.5zM553.68 551.18h3.5v3.5h-3.5zM545.90 543.40h3.5v3.5h-3.5zM538.13 535.63h3.5v3.5h-3.5zM530.35 527.85h3.5v3.5h-3.5zM522.57 520.07h3.5v3.5h-3.5zM514.79 512.29h3.5v3.5h-3.5zM507.01 504.51h3.5v3.5h-3.5zM499.23 496.73h3.5v3.5h-3.5zM491.46 488.96h3.5v3.5h-3.5zM483.68 481.18h3.5v3.5h-3.5zM475.90 473.40h3.5v3.5h-3.5zM468.12 465.62h3.5v3.5h-3.5zM460.34 457.84h3.5v3.5h-3.5zM452.57 450.07h3.5v3.5h-3.5zM444.79 442.29h3.5v3.5h-3.5zM437.01 434.51h3.5v3.5h-3.5zM429.23 426.73h3.5v3.5h-3.5zM421.45 418.95h3.5v3.5h-3.5zM413.68 411.18h3.5v3.5h-3.5zM405.90 403.40h3.5v3.5h-3.5zM398.12 395.62h3.5v3.5h-3.5zM390.34 387.84h3.5v3.5h-3.5zM382.56 380.06h3.5v3.5h-3.5zM374.78 372.28h3.5v3.5h-3.5zM367.01 364.51h3.5v3.5h-3.5zM359.23 356.73h3.5v3.5h-3.5zM351.45 348.95h3.5v3.5h-3.5zM343.67 341.17h3.5v3.5h-3.5zM335.89 333.39h3.5v3.5h-3.5zM328.12 325.62h3.5v3.5h-3.5zM320.34 317.84h3.5v3.5h-3.5zM312.56 310.06h3.5v3.5h-3.5zM304.78 302.28h3.5v3.5h-3.5zM297.00 294.50h3.5v3.5h-3.5zM289.22 286.72h3.5v3.5h-3.5zM281.45 278.95h3.5v3.5h-3.5zM273.67 271.17h3.5v3.5h-3.5zM265.89 263.39h3.5v3.5h-3.5zM258.11 255.61h3.5v3.5h-3.5zM677.50 662.37h3.5v3.5h-3.5zM672.00 652.85h3.5v3.5h-3.5zM666.50 643.32h3.5v3.5h-3.5zM661.00 633.79h3.5v3.5h-3.5zM655.50 624.27h3.5v3.5h-3.5zM650.00 614.74h3.5v3.5h-3.5zM644.50 605.21h3.5v3.5h-3.5zM639.00 595.69h3.5v3.5h-3.5zM633.50 586.16h3.5v3.5h-3.5zM628.00 576.64h3.5v3.5h-3.5zM622.50 567.11h3.5v3.5h-3.5zM617.00 557.58h3.5v3.5h-3.5zM611.50 548.06h3.5v3.5h-3.5zM606.00 538.53h3.5v3.5h-3.5zM600.50 529.00h3.5v3.5h-3.5zM595.00 519.48h3.5v3.5h-3.5zM589.50 509.95h3.5v3.5h-3.5zM584.00 500.43h3.5v3.5h-3.5zM578.50 490.90h3.5v3.5h-3.5zM573.00 481.37h3.5v3.5h-3.5zM567.50 471.85h3.5v3.5h-3.5zM562.00 462.32h3.5v3.5h-3.5zM556.50 452.79h3.5v3.5h-3.5zM551.00 443.27h3.5v3.5h-3.5zM545.50 433.74h3.5v3.5h-3.5zM540.00 424.22h3.5v3.5h-3.5zM534.50 414.69h3.5v3.5h-3.5zM529.00 405.16h3.5v3.5h-3.5zM523.50 395.64h3.5v3.5h-3.5zM518.00 386.11h3.5v3.5h-3.5zM512.50 376.58h3.5v3.5h-3.5zM507.00 367.06h3.5v3.5h-3.5zM501.50 357.53h3.5v3.5h-3.5zM496.00 348.00h3.5v3.5h-3.5zM490.50 338.48h3.5v3.5h-3.5zM485.00 328.95h3.5v3.5h-3.5zM479.50 319.43h3.5v3.5h-3.5zM474.00 309.90h3.5v3.5h-3.5zM468.50 300.37h3.5v3.5h-3.5zM463.00 290.85h3.5v3.5h-3.5zM457.50 281.32h3.5v3.5h-3.5zM452.00 271.79h3.5v3.5h-3.5zM446.50 262.27h3.5v3.5h-3.5zM441.00 252.74h3.5v3.5h-3.5zM435.50 243.22h3.5v3.5h-3.5zM430.00 233.69h3.5v3.5h-3.5zM424.50 224.16h3.5v3.5h-3.5zM419.00 214.64h3.5v3.5h-3.5zM413.50 205.11h3.5v3.5h-3.5zM408.00 195.58h3.5v3.5h-3.5zM402.50 186.06h3.5v3.5h-3.5zM397.00 176.53h3.5v3.5h-3.5zM391.50 167.01h3.5v3.5h-3.5zM386.00 157.48h3.5v3.5h-3.5zM685.82 658.93h3.5v3.5h-3.5zM682.97 648.30h3.5v3.5h-3.5zM680.13 637.68h3.5v3.5h-3.5zM677.28 627.05h3.5v3.5h-3.5zM674.43 616.42h3.5v3.5h-3.5zM671.59 605.80h3.5v3.5h-3.5zM668.74 595.17h3.5v3.5h-3.5zM665.89 584.55h3.5v3.5h-3.5zM663.04 573.92h3.5v3.5h-3.5zM660.20 563.30h3.5v3.5h-3.5zM657.35 552.67h3.5v3.5h-3.5zM654.50 542.05h3.5v3.5h-3.5zM651.66 531.42h3.5v3.5h-3.5zM648.81 520.80h3.5v3.5h-3.5zM645.96 510.17h3.5v3.5h-3.5zM643.12 499.55h3.5v3.5h-3.5zM640.27 488.92h3.5v3.5h-3.5zM637.42 478.30h3.5v3.5h-3.5zM634.57 467.67h3.5v3.5h-3.5zM631.73 457.05h3.5v3.5h-3.5zM628.88 446.42h3.5v3.5h-3.5zM626.03 435.80h3.5v3.5h-3.5zM623.19 425.17h3.5v3.5h-3.5zM620.34 414.55h3.5v3.5h-3.5zM617.49 403.92h3.5v3.5h-3.5zM614.65 393.30h3.5v3.5h-3.5zM611.80 382.67h3.5v3.5h-3.5zM608.95 372.05h3.5v3.5h-3.5zM606.10 361.42h3.5v3.5h-3.5zM603.26 350.80h3.5v3.5h-3.5zM600.41 340.17h3.5v3.5h-3.5zM597.56 329.54h3.5v3.5h-3.5zM594.72 318.92h3.5v3.5h-3.5zM591.87 308.29h3.5v3.5h-3.5zM589.02 297.67h3.5v3.5h-3.5zM586.18 287.04h3.5v3.5h-3.5zM583.33 276.42h3.5v3.5h-3.5zM580.48 265.79h3.5v3.5h-3.5zM577.63 255.17h3.5v3.5h-3.5zM574.79 244.54h3.5v3.5h-3.5zM571.94 233.92h3.5v3.5h-3.5zM569.09 223.29h3.5v3.5h-3.5zM566.25 212.67h3.5v3.5h-3.5zM563.40 202.04h3.5v3.5h-3.5zM560.55 191.42h3.5v3.5h-3.5zM557.71 180.79h3.5v3.5h-3.5zM554.86 170.17h3.5v3.5h-3.5zM552.01 159.54h3.5v3.5h-3.5zM549.16 148.92h3.5v3.5h-3.5zM546.32 138.29h3.5v3.5h-3.5zM543.47 127.67h3.5v3.5h-3.5zM540.62 117.04h3.5v3.5h-3.5zM537.78 106.42h3.5v3.5h-3.5zM534.93 95.79h3.5v3.5h-3.5z" fill="#fff"/>
<circle cx="696.5" cy="694.0" r="12.5" fill="none" stroke="#fff" stroke-width="3.7"/>
<path d="M455.4 810.3 L486 810.3 L470.5 835.6Z" fill="#9a9a9a"/>
<path d="M462.6 823.6 L451.7 829.8" stroke="#8a8a8a" stroke-width="1.6"/>
<path d="M778.1 668.5 L798.6 647.2 L807.3 675.2Z" fill="#d8d8d8"/>
<path d="M801 661 L842.4 648.8" stroke="#d8d8d8" stroke-width="3.3"/>
<path d="M638.9 1147.7 L621 1170.8 L649.9 1174.3Z" fill="#a9a9a9"/>
<path d="M636 1172 L632.5 1192.7" stroke="#a9a9a9" stroke-width="2.6"/>
<path d="M628.5 1198.5 L610.6 1221 L639.5 1225Z" fill="#fff"/>
<path d="M626 1220 L619.8 1262" stroke="#fff" stroke-width="5"/>
<rect x="693" y="691" width="7" height="6" fill="#fff"/>
<rect x="694.3" y="694" width="4.6" height="620" fill="#dc3c04"/>
</g>
<text x="674.2" y="57.3" font-size="52">0<tspan font-size="23" dy="-21.5" dx="-0.7">o</tspan></text>
<text x="645.5" y="1364" font-size="52"><tspan dx="3">1</tspan><tspan dx="-3">80</tspan><tspan font-size="23" dy="-21.5" dx="-1.5">o</tspan></text>
<g transform="translate(57.5,741) rotate(-90)"><text x="0" y="0" font-size="52">270<tspan font-size="23" dy="-21.5" dx="-1.5">o</tspan></text></g>
<g transform="translate(1331,656) rotate(90)"><text x="0" y="0" font-size="52">90<tspan font-size="23" dy="-21.5" dx="-1">o</tspan></text></g>
<defs><linearGradient id="cbg" x1="0" y1="0" x2="0" y2="1"><stop offset="0" stop-color="#fafafa"/><stop offset="1" stop-color="#000"/></linearGradient></defs>
<rect x="1339.5" y="1002.3" width="47.2" height="307" fill="url(#cbg)" stroke="#000" stroke-width="2.6"/>
<path d="M1340.6 1310.0h3.5 M1385.6 1310.0h-3.5 M1340.6 1280.8h1.8 M1385.6 1280.8h-1.8 M1340.6 1263.7h1.8 M1385.6 1263.7h-1.8 M1340.6 1251.6h1.8 M1385.6 1251.6h-1.8 M1340.6 1242.2h1.8 M1385.6 1242.2h-1.8 M1340.6 1234.5h1.8 M1385.6 1234.5h-1.8 M1340.6 1228.0h1.8 M1385.6 1228.0h-1.8 M1340.6 1222.4h1.8 M1385.6 1222.4h-1.8 M1340.6 1217.4h1.8 M1385.6 1217.4h-1.8 M1340.6 1213.0h3.5 M1385.6 1213.0h-3.5 M1340.6 1183.8h1.8 M1385.6 1183.8h-1.8 M1340.6 1166.7h1.8 M1385.6 1166.7h-1.8 M1340.6 1154.6h1.8 M1385.6 1154.6h-1.8 M1340.6 1145.2h1.8 M1385.6 1145.2h-1.8 M1340.6 1137.5h1.8 M1385.6 1137.5h-1.8 M1340.6 1131.0h1.8 M1385.6 1131.0h-1.8 M1340.6 1125.4h1.8 M1385.6 1125.4h-1.8 M1340.6 1120.4h1.8 M1385.6 1120.4h-1.8 M1340.6 1116.0h3.5 M1385.6 1116.0h-3.5 M1340.6 1086.8h1.8 M1385.6 1086.8h-1.8 M1340.6 1069.7h1.8 M1385.6 1069.7h-1.8 M1340.6 1057.6h1.8 M1385.6 1057.6h-1.8 M1340.6 1048.2h1.8 M1385.6 1048.2h-1.8 M1340.6 1040.5h1.8 M1385.6 1040.5h-1.8 M1340.6 1034.0h1.8 M1385.6 1034.0h-1.8 M1340.6 1028.4h1.8 M1385.6 1028.4h-1.8 M1340.6 1023.4h1.8 M1385.6 1023.4h-1.8 M1340.6 1019.0h3.5 M1385.6 1019.0h-3.5" stroke="#000" stroke-width="2" fill="none"/>
<path d="M1348.9 1003v3.8 M1358.4 1003v3.8 M1367.9 1003v3.8 M1377.3 1003v3.8" stroke="#000" stroke-width="2"/>
<text x="1396" y="1028.6" font-size="29"><tspan dx="2.5">1</tspan><tspan dx="-2.5">000</tspan></text>
<text x="1396" y="1125.7" font-size="29"><tspan dx="2.5">1</tspan><tspan dx="-2.5">00</tspan></text>
<text x="1396" y="1222.8" font-size="29"><tspan dx="2.5">1</tspan><tspan dx="-2.5">0</tspan></text>
<text x="1396" y="1310.0" font-size="29"><tspan dx="2.5">1</tspan><tspan dx="-2.5"></tspan></text>
<text x="1316" y="987" font-size="38">kR H<tspan font-size="16" dy="4.6">2</tspan></text>
<g fill="#fff"><rect x="1399.5" y="1025.6" width="6" height="3.8"/><rect x="1408.7" y="1025.6" width="6" height="3.8"/><rect x="1399.5" y="1122.7" width="6" height="3.8"/><rect x="1408.7" y="1122.7" width="6" height="3.8"/><rect x="1399.5" y="1219.8" width="6" height="3.8"/><rect x="1408.7" y="1219.8" width="6" height="3.8"/><rect x="1399.5" y="1306.6" width="6" height="3.8"/><rect x="1408.7" y="1306.6" width="6" height="3.8"/><rect x="650" y="1359.5" width="11.6" height="4.8"/><rect x="665.9" y="1359.5" width="11" height="4.8"/></g>
</svg>
</body></html>
